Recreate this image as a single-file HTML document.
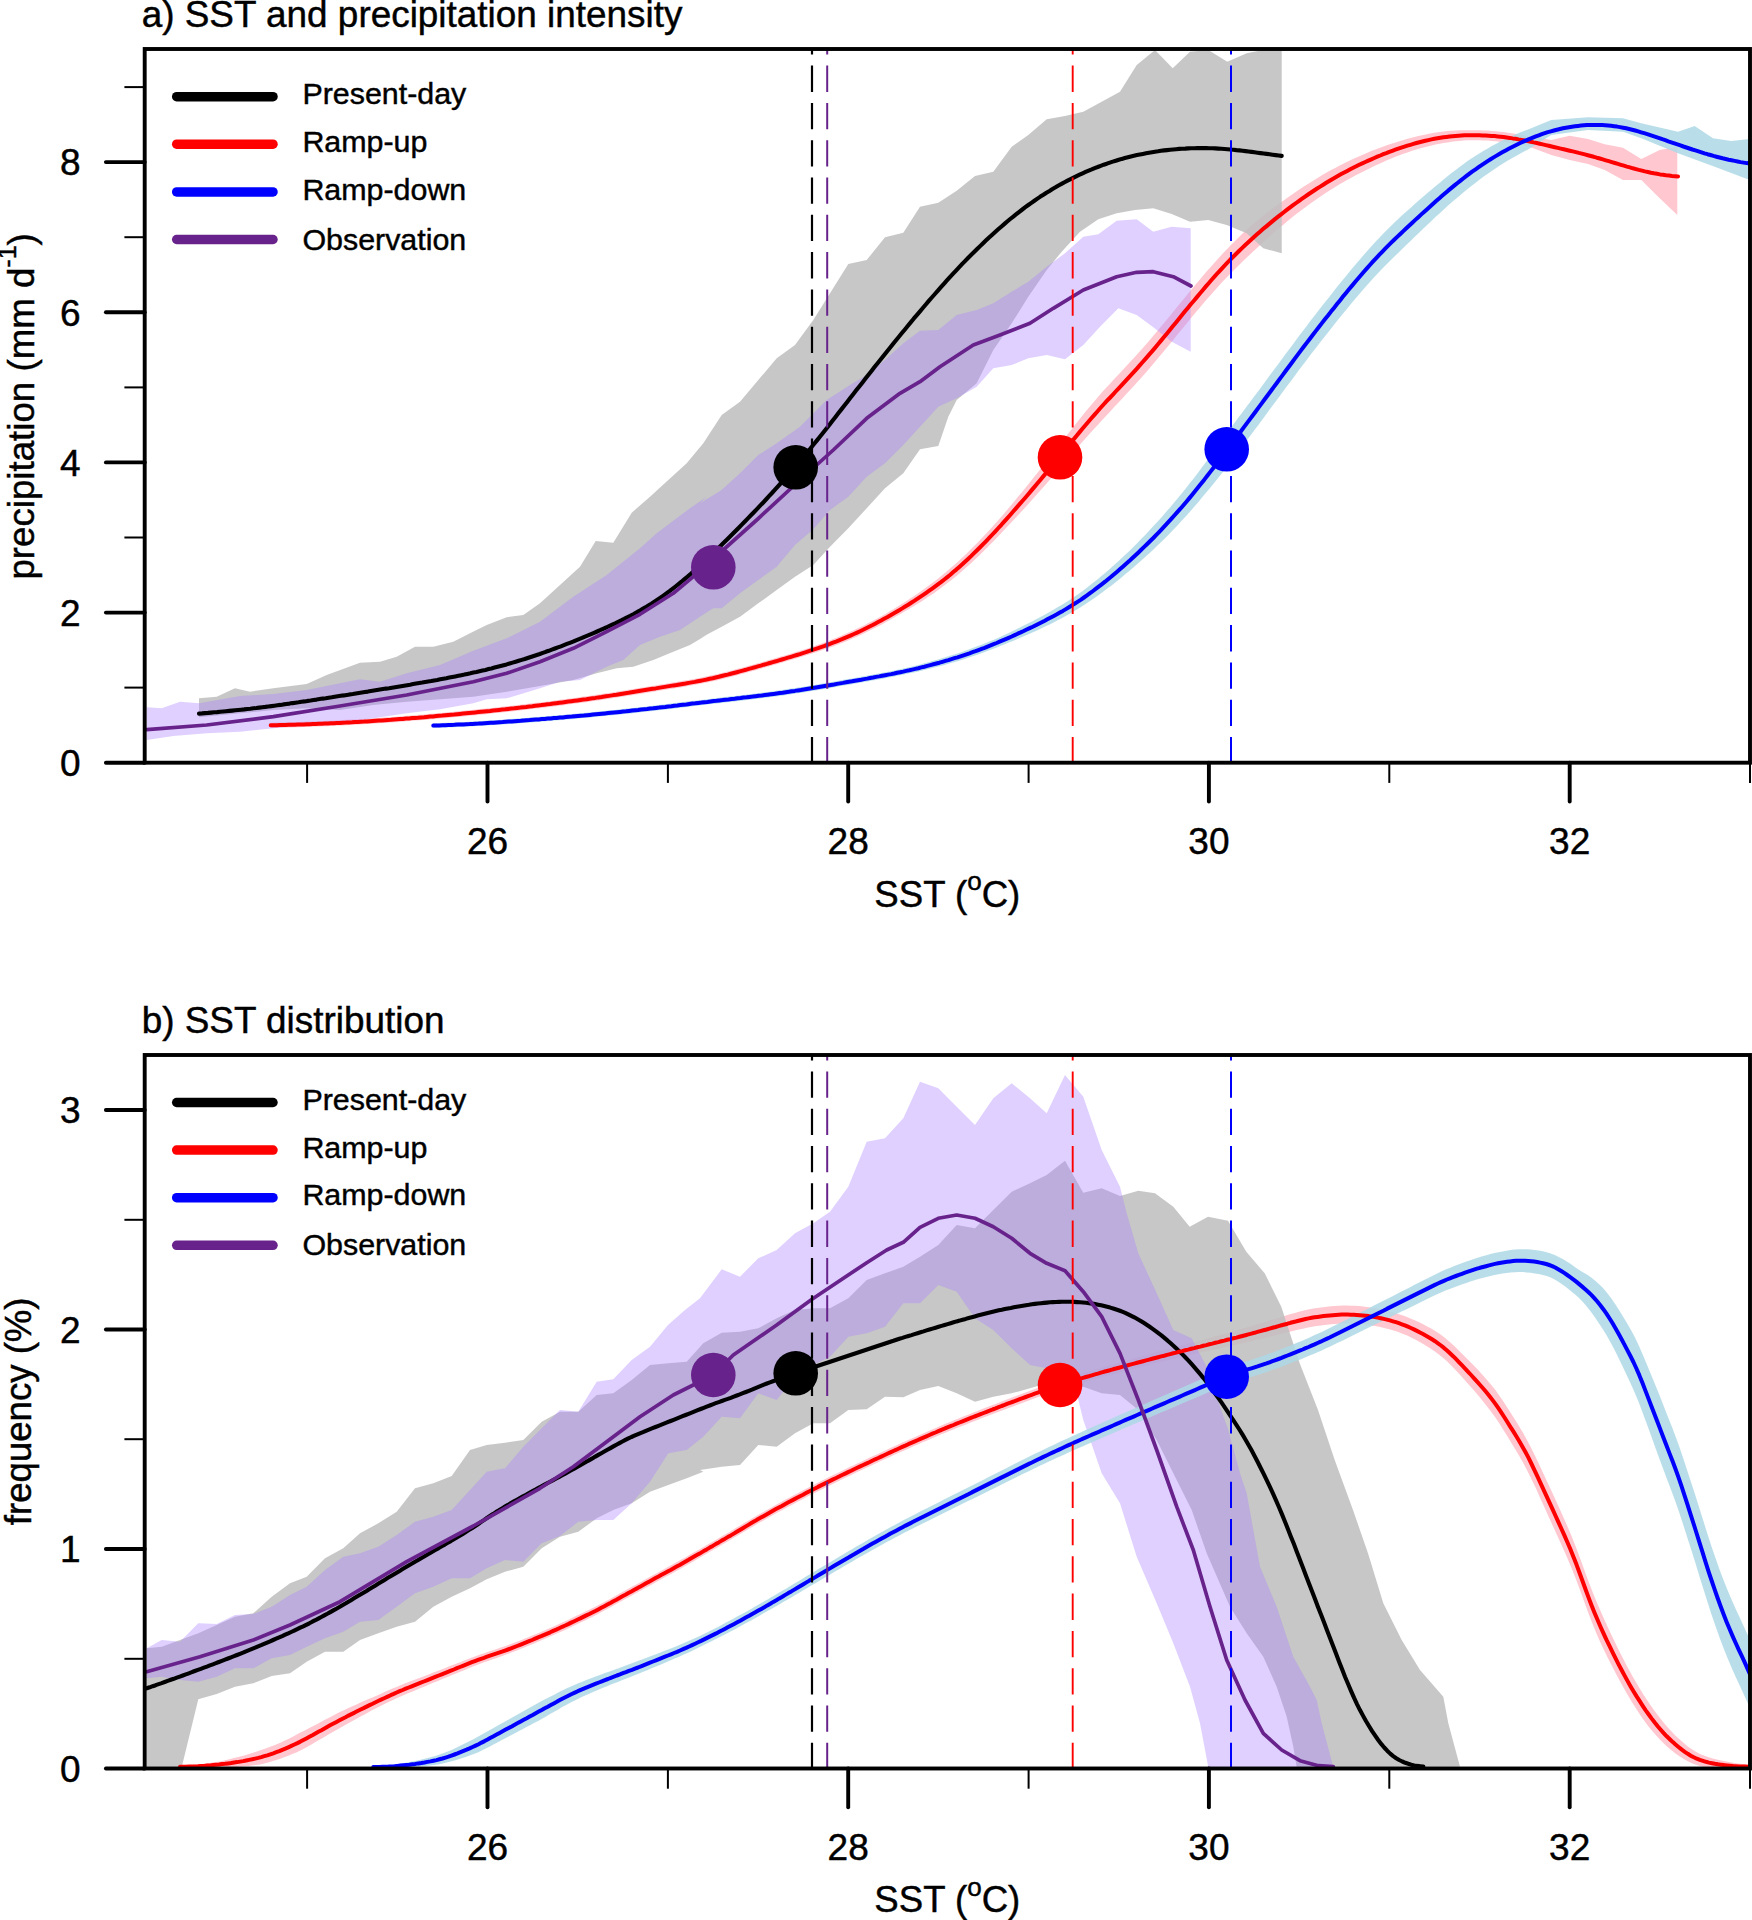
<!DOCTYPE html>
<html lang="en">
<head>
<meta charset="utf-8">
<title>SST and precipitation intensity / SST distribution</title>
<style>
html,body{margin:0;padding:0;background:#fff;}
body{width:1752px;height:1920px;overflow:hidden;}
svg{display:block;}
svg text{font-family:"Liberation Sans",sans-serif;fill:#000;stroke:#000;stroke-width:0.45px;}
</style>
</head>
<body>
<svg width="1752" height="1920" viewBox="0 0 1752 1920">
<rect width="1752" height="1920" fill="#fff"/>
<clipPath id="clipA"><rect x="144.7" y="49" width="1605.3" height="713.7"/></clipPath>
<g clip-path="url(#clipA)">
<path d="M270.7 722.7 L274.7 722.6 L278.7 722.5 L282.7 722.4 L286.7 722.3 L290.8 722.2 L294.8 722 L298.8 721.9 L302.8 721.8 L306.8 721.6 L310.8 721.5 L314.9 721.3 L318.9 721.2 L322.9 721 L326.9 720.8 L330.9 720.7 L334.9 720.5 L339 720.3 L343 720.1 L347 719.8 L351 719.6 L355 719.4 L359 719.2 L363.1 718.9 L367.1 718.7 L371.1 718.4 L375.1 718.1 L379.1 717.9 L383.1 717.6 L387.2 717.3 L391.2 717 L395.2 716.7 L399.2 716.4 L403.2 716.1 L407.2 715.8 L411.3 715.4 L415.3 715.1 L419.3 714.8 L423.3 714.4 L427.3 714.1 L431.3 713.7 L435.4 713.4 L439.4 713 L443.4 712.7 L447.4 712.3 L451.4 711.9 L455.5 711.5 L459.5 711.1 L463.5 710.7 L467.5 710.3 L471.5 709.9 L475.5 709.5 L479.6 709.1 L483.6 708.7 L487.6 708.3 L491.6 707.9 L495.6 707.4 L499.6 707 L503.7 706.6 L507.7 706.1 L511.7 705.7 L515.7 705.2 L519.7 704.7 L523.7 704.3 L527.8 703.8 L531.8 703.3 L535.8 702.8 L539.8 702.4 L543.8 701.9 L547.8 701.4 L551.9 700.9 L555.9 700.3 L559.9 699.8 L563.9 699.3 L567.9 698.8 L571.9 698.2 L576 697.7 L580 697.1 L584 696.5 L588 696 L592 695.4 L596 694.8 L600.1 694.2 L604.1 693.6 L608.1 693 L612.1 692.4 L616.1 691.7 L620.1 691.1 L624.2 690.5 L628.2 689.8 L632.2 689.2 L636.2 688.5 L640.2 687.8 L644.3 687.2 L648.3 686.5 L652.3 685.9 L656.3 685.2 L660.3 684.5 L664.3 683.9 L668.4 683.2 L672.4 682.6 L676.4 681.9 L680.4 681.3 L684.4 680.6 L688.4 679.9 L692.5 679.2 L696.5 678.4 L700.5 677.7 L704.5 676.8 L708.5 676 L712.5 675.1 L716.6 674.2 L720.6 673.2 L724.6 672.2 L728.6 671.2 L732.6 670.2 L736.6 669.1 L740.7 668 L744.7 666.9 L748.7 665.8 L752.7 664.7 L756.7 663.6 L760.7 662.4 L764.8 661.3 L768.8 660.1 L772.8 659 L776.8 657.8 L780.8 656.6 L784.8 655.4 L788.9 654.2 L792.9 653 L796.9 651.8 L800.9 650.5 L804.9 649.2 L808.9 647.9 L813 646.5 L817 645.1 L821 643.7 L825 642.2 L829 640.7 L833.1 639.1 L837.1 637.5 L841.1 635.8 L845.1 634.1 L849.1 632.3 L853.1 630.5 L857.2 628.6 L861.2 626.7 L865.2 624.7 L869.2 622.6 L873.2 620.5 L877.2 618.4 L881.3 616.2 L885.3 613.9 L889.3 611.6 L893.3 609.2 L897.3 606.8 L901.3 604.3 L905.4 601.7 L909.4 599.1 L913.4 596.4 L917.4 593.7 L921.4 590.9 L925.4 588 L929.5 585 L933.5 582 L937.5 578.9 L941.5 575.7 L945.5 572.4 L949.5 569 L953.6 565.5 L957.6 561.9 L961.6 558.2 L965.6 554.4 L969.6 550.5 L973.6 546.5 L977.7 542.4 L981.7 538.3 L985.7 534 L989.7 529.7 L993.7 525.3 L997.8 520.8 L1001.8 516.2 L1005.8 511.5 L1009.8 506.8 L1013.8 502 L1017.8 497.1 L1021.9 492.2 L1025.9 487.3 L1029.9 482.3 L1033.9 477.3 L1037.9 472.3 L1041.9 467.2 L1046 462.1 L1050 456.9 L1054 451.8 L1058 446.6 L1062 441.4 L1066 436.3 L1070.1 431.2 L1074.1 426.1 L1078.1 421 L1082.1 416 L1086.1 411 L1090.1 406.2 L1094.2 401.4 L1098.2 396.7 L1102.2 392.1 L1106.2 387.7 L1110.2 383.4 L1114.2 379.1 L1118.3 374.8 L1122.3 370.5 L1126.3 366.1 L1130.3 361.8 L1134.3 357.4 L1138.3 352.9 L1142.4 348.4 L1146.4 343.9 L1150.4 339.2 L1154.4 334.5 L1158.4 329.7 L1162.4 324.9 L1166.5 320.1 L1170.5 315.2 L1174.5 310.3 L1178.5 305.3 L1182.5 300.4 L1186.6 295.5 L1190.6 290.6 L1194.6 285.8 L1198.6 281 L1202.6 276.3 L1206.6 271.6 L1210.7 267 L1214.7 262.4 L1218.7 258 L1222.7 253.6 L1226.7 249.4 L1230.7 245.2 L1234.8 241.2 L1238.8 237.2 L1242.8 233.3 L1246.8 229.5 L1250.8 225.9 L1254.8 222.5 L1258.9 219.2 L1262.9 216 L1266.9 212.8 L1270.9 209.8 L1274.9 206.7 L1278.9 203.8 L1283 200.9 L1287 198 L1291 195.2 L1295 192.5 L1299 189.8 L1303 187.1 L1307.1 184.5 L1311.1 181.9 L1315.1 179.4 L1319.1 177 L1323.1 174.6 L1327.1 172.3 L1331.2 170.1 L1335.2 167.9 L1339.2 165.8 L1343.2 163.7 L1347.2 161.7 L1351.3 159.8 L1355.3 158 L1359.3 156.2 L1363.3 154.4 L1367.3 152.7 L1371.3 151.1 L1375.4 149.5 L1379.4 148 L1383.4 146.5 L1387.4 145.1 L1391.4 143.8 L1395.4 142.5 L1399.5 141.2 L1403.5 140 L1407.5 138.8 L1411.5 137.8 L1415.5 136.7 L1419.5 135.8 L1423.6 134.9 L1427.6 134.1 L1431.6 133.3 L1435.6 132.6 L1439.6 132.1 L1443.6 131.5 L1447.7 131.1 L1451.7 130.8 L1455.7 130.5 L1459.7 130.3 L1463.7 130.2 L1467.7 130.2 L1471.8 130.2 L1475.8 130.2 L1479.8 130.3 L1483.8 130.4 L1487.8 130.6 L1491.8 130.9 L1495.9 131.2 L1499.9 131.7 L1503.9 132.1 L1507.9 132.7 L1511.9 133.2 L1515.9 133.9 L1520 134.6 L1524 135.4 L1528 136.2 L1551.3 140 L1569.7 135.7 L1588 139 L1604.7 144.3 L1623 147.7 L1641.3 159 L1659.7 150 L1677.3 146.7 L1677.3 215 L1659.7 198.3 L1641.3 180 L1623 180 L1604.7 170 L1588 164 L1569.7 160 L1551.3 155 L1528 146.2 L1524 145.4 L1520 144.6 L1515.9 143.9 L1511.9 143.2 L1507.9 142.7 L1503.9 142.1 L1499.9 141.7 L1495.9 141.2 L1491.8 140.9 L1487.8 140.6 L1483.8 140.4 L1479.8 140.3 L1475.8 140.2 L1471.8 140.2 L1467.7 140.3 L1463.7 140.6 L1459.7 140.9 L1455.7 141.3 L1451.7 141.8 L1447.7 142.4 L1443.6 143 L1439.6 143.8 L1435.6 144.6 L1431.6 145.5 L1427.6 146.5 L1423.6 147.5 L1419.5 148.6 L1415.5 149.8 L1411.5 151.1 L1407.5 152.4 L1403.5 153.8 L1399.5 155.3 L1395.4 156.8 L1391.4 158.5 L1387.4 160.1 L1383.4 161.9 L1379.4 163.7 L1375.4 165.5 L1371.3 167.4 L1367.3 169.4 L1363.3 171.4 L1359.3 173.4 L1355.3 175.5 L1351.3 177.7 L1347.2 180 L1343.2 182.3 L1339.2 184.6 L1335.2 187.1 L1331.2 189.6 L1327.1 192.1 L1323.1 194.8 L1319.1 197.5 L1315.1 200.2 L1311.1 203.1 L1307.1 205.9 L1303 208.9 L1299 211.9 L1295 215.1 L1291 218.3 L1287 221.6 L1283 224.9 L1278.9 228.3 L1274.9 231.7 L1270.9 235.2 L1266.9 238.8 L1262.9 242.5 L1258.9 246.2 L1254.8 249.9 L1250.8 253.8 L1246.8 257.5 L1242.8 261.3 L1238.8 265.2 L1234.8 269.2 L1230.7 273.2 L1226.7 277.4 L1222.7 281.6 L1218.7 286 L1214.7 290.4 L1210.7 295 L1206.6 299.6 L1202.6 304.3 L1198.6 309 L1194.6 313.8 L1190.6 318.6 L1186.6 323.5 L1182.5 328.4 L1178.5 333.3 L1174.5 338.3 L1170.5 343.2 L1166.5 348.1 L1162.4 352.9 L1158.4 357.7 L1154.4 362.5 L1150.4 367.2 L1146.4 371.9 L1142.4 376.4 L1138.3 380.9 L1134.3 385.4 L1130.3 389.8 L1126.3 394.1 L1122.3 398.5 L1118.3 402.8 L1114.2 407.1 L1110.2 411.4 L1106.2 415.7 L1102.2 420.1 L1098.2 424.5 L1094.2 428.8 L1090.1 433.2 L1086.1 437.7 L1082.1 442.2 L1078.1 446.8 L1074.1 451.5 L1070.1 456.2 L1066 460.9 L1062 465.6 L1058 470.3 L1054 475 L1050 479.6 L1046 484.2 L1041.9 488.8 L1037.9 493.3 L1033.9 497.8 L1029.9 502.3 L1025.9 506.7 L1021.9 511.1 L1017.8 515.5 L1013.8 519.8 L1009.8 524.1 L1005.8 528.3 L1001.8 532.5 L997.8 536.7 L993.7 540.9 L989.7 545 L985.7 549 L981.7 553 L977.7 556.9 L973.6 560.7 L969.6 564.4 L965.6 568 L961.6 571.5 L957.6 575 L953.6 578.3 L949.5 581.5 L945.5 584.6 L941.5 587.6 L937.5 590.5 L933.5 593.4 L929.5 596.1 L925.4 598.8 L921.4 601.4 L917.4 603.9 L913.4 606.3 L909.4 608.8 L905.4 611.1 L901.3 613.4 L897.3 615.7 L893.3 618 L889.3 620.3 L885.3 622.5 L881.3 624.7 L877.2 626.8 L873.2 628.8 L869.2 630.8 L865.2 632.8 L861.2 634.7 L857.2 636.5 L853.1 638.3 L849.1 640 L845.1 641.7 L841.1 643.3 L837.1 644.8 L833.1 646.4 L829 647.8 L825 649.2 L821 650.6 L817 651.9 L813 653.2 L808.9 654.5 L804.9 655.7 L800.9 657 L796.9 658.2 L792.9 659.4 L788.9 660.6 L784.8 661.8 L780.8 663 L776.8 664.2 L772.8 665.3 L768.8 666.5 L764.8 667.6 L760.7 668.7 L756.7 669.9 L752.7 671 L748.7 672.1 L744.7 673.2 L740.7 674.3 L736.6 675.4 L732.6 676.4 L728.6 677.5 L724.6 678.5 L720.6 679.4 L716.6 680.4 L712.5 681.3 L708.5 682.2 L704.5 683 L700.5 683.8 L696.5 684.6 L692.5 685.3 L688.4 686 L684.4 686.7 L680.4 687.4 L676.4 688.1 L672.4 688.7 L668.4 689.3 L664.3 690 L660.3 690.6 L656.3 691.3 L652.3 691.9 L648.3 692.6 L644.3 693.2 L640.2 693.9 L636.2 694.5 L632.2 695.2 L628.2 695.8 L624.2 696.5 L620.1 697.1 L616.1 697.7 L612.1 698.3 L608.1 699 L604.1 699.6 L600.1 700.2 L596 700.7 L592 701.3 L588 701.9 L584 702.5 L580 703 L576 703.6 L571.9 704.1 L567.9 704.6 L563.9 705.2 L559.9 705.7 L555.9 706.2 L551.9 706.7 L547.8 707.2 L543.8 707.7 L539.8 708.2 L535.8 708.6 L531.8 709.1 L527.8 709.6 L523.7 710.1 L519.7 710.5 L515.7 711 L511.7 711.4 L507.7 711.9 L503.7 712.3 L499.6 712.7 L495.6 713.1 L491.6 713.6 L487.6 714 L483.6 714.4 L479.6 714.8 L475.5 715.2 L471.5 715.6 L467.5 716 L463.5 716.4 L459.5 716.8 L455.5 717.1 L451.4 717.5 L447.4 717.9 L443.4 718.2 L439.4 718.6 L435.4 719 L431.3 719.3 L427.3 719.7 L423.3 720 L419.3 720.3 L415.3 720.6 L411.3 721 L407.2 721.3 L403.2 721.6 L399.2 721.9 L395.2 722.2 L391.2 722.5 L387.2 722.8 L383.1 723 L379.1 723.3 L375.1 723.6 L371.1 723.8 L367.1 724.1 L363.1 724.3 L359 724.6 L355 724.8 L351 725 L347 725.2 L343 725.4 L339 725.6 L334.9 725.8 L330.9 726 L326.9 726.2 L322.9 726.3 L318.9 726.5 L314.9 726.6 L310.8 726.8 L306.8 726.9 L302.8 727.1 L298.8 727.2 L294.8 727.3 L290.8 727.4 L286.7 727.5 L282.7 727.6 L278.7 727.7 L274.7 727.8 L270.7 727.9 Z" fill="#ffc8d0"/>
<path d="M199 698.3 L216.7 696.7 L235 688.3 L250 691.7 L273.3 688.3 L306.7 684 L326.7 675 L360 662.7 L380 661.7 L396.7 656.7 L415 646.7 L433.3 646.7 L453.3 641.7 L470 633.3 L486.7 625 L506.7 617.3 L523.3 615 L540 603.3 L560 585 L580 566.7 L595.7 541 L613.3 542.7 L631.7 512.7 L650 496.7 L668.3 480 L686.7 463.3 L703.3 443.3 L721.7 415 L740 401.7 L758.3 380 L776.7 358.3 L795 345 L813.3 320 L830 293.3 L848.3 264 L866.7 260 L885 237.3 L903.3 232.7 L920 206.7 L938.3 202.7 L956.7 190.7 L975 176 L993.3 171.7 L1011.7 146.7 L1028.3 135 L1046.7 119.3 L1065 116 L1083.3 111.7 L1101.7 101.7 L1120 91.7 L1136.7 65 L1155 50 L1172.7 68.3 L1190 51.7 L1208.3 50 L1227.3 61.7 L1246.7 53.3 L1266.7 49.3 L1281.7 49.3 L1281.7 253.3 L1263.3 248.3 L1246.7 233.3 L1226.7 225 L1208.3 220 L1190 221.7 L1171.7 214 L1153.3 208.3 L1135 210 L1116.7 213.3 L1098.3 219.3 L1080 231.7 L1061.7 251.7 L1046.7 270 L1028.3 296.7 L1011.7 323.3 L993.3 350 L976.7 383.3 L956.7 400 L948.3 416.7 L938.3 446 L920 449.3 L903.3 473.3 L885 488.3 L866.7 508.3 L848.3 528.3 L830 546.7 L813.3 565 L795 576.7 L776.7 590 L758.3 603.3 L740 616.7 L721.7 626.7 L700 638.3 L706.7 635 L690 645 L673.3 651.7 L653.3 660 L633.3 666.7 L616.7 668.3 L596.7 673.3 L573.3 680 L540 686 L506.7 691.7 L473.3 696.7 L440 699.3 L406.7 701.7 L373.3 705 L340 710 L306.7 708.3 L273.3 710 L240 713.3 L199 717.3 Z" fill="rgb(190,190,190)" fill-opacity="0.86"/>
<path d="M146.7 707.3 L161.7 708.3 L180 701.7 L199 703.3 L240 696 L273.3 694 L306.7 690 L340 683.3 L360 679.3 L380 681.7 L406.7 673.3 L440 665 L473.3 650.7 L506.7 638.3 L540 621.7 L573.3 596.7 L606.7 575 L640 548.3 L656.7 533.3 L673.3 520.7 L690 508.3 L706.7 496.7 L700 503.3 L721.7 490 L740 473.3 L758.3 455 L776.7 443.3 L800 426.7 L826.7 400 L850 385 L866.7 375 L885 360 L903.3 343.3 L920 330.7 L938.3 330 L956.7 315 L976.7 310 L993.3 303.3 L1011.7 291.7 L1028.3 281.7 L1046.7 266.7 L1065 253.3 L1083.3 236.7 L1098.3 234.3 L1116.7 220.7 L1136.7 219.3 L1153.3 231.7 L1171.7 226.7 L1190.7 228.3 L1190.7 351.7 L1171.7 341.7 L1153.3 327.3 L1136.7 315 L1118.3 308.3 L1100 326.7 L1083.3 345 L1065 359.3 L1046.7 355 L1028.3 358.3 L1011.7 365 L993.3 368.3 L976.7 386.7 L956.7 398.3 L938.3 406.7 L920 426.7 L903.3 445 L885 463.3 L866.7 476.7 L848.3 496.7 L830 510 L813.3 529.3 L795 545 L776.7 566.7 L758.3 580 L740 593.3 L721.7 608.3 L713.3 608.3 L700 616.7 L680 630 L660 636.7 L640 645 L623.3 660 L606.7 666.7 L580 680 L560 681.7 L540 688.3 L506.7 698.3 L486.7 699.3 L473.3 703.3 L440 709.3 L406.7 713.3 L373.3 718.3 L340 722.7 L306.7 725 L273.3 728.3 L240 731.7 L206.7 733.3 L173.3 736 L146.7 740 Z" fill="rgb(171,130,255)" fill-opacity="0.375"/>
<path d="M433.3 723.3 L437.4 723.2 L441.4 723 L445.4 722.8 L449.4 722.7 L453.5 722.5 L457.5 722.3 L461.5 722.1 L465.5 721.9 L469.6 721.7 L473.6 721.5 L477.6 721.3 L481.6 721 L485.7 720.8 L489.7 720.5 L493.7 720.3 L497.7 720 L501.8 719.7 L505.8 719.4 L509.8 719.1 L513.8 718.8 L517.8 718.5 L521.9 718.2 L525.9 717.9 L529.9 717.6 L533.9 717.3 L538 717 L542 716.6 L546 716.3 L550 716 L554.1 715.6 L558.1 715.3 L562.1 714.9 L566.1 714.6 L570.2 714.2 L574.2 713.8 L578.2 713.5 L582.2 713.1 L586.3 712.7 L590.3 712.3 L594.3 711.9 L598.3 711.5 L602.4 711.1 L606.4 710.7 L610.4 710.3 L614.4 709.9 L618.5 709.5 L622.5 709.1 L626.5 708.6 L630.5 708.2 L634.6 707.7 L638.6 707.3 L642.6 706.9 L646.6 706.4 L650.7 705.9 L654.7 705.5 L658.7 705 L662.7 704.5 L666.8 704.1 L670.8 703.6 L674.8 703.1 L678.8 702.6 L682.9 702.1 L686.9 701.6 L690.9 701.1 L694.9 700.7 L699 700.2 L703 699.7 L707 699.2 L711 698.7 L715 698.2 L719.1 697.8 L723.1 697.3 L727.1 696.8 L731.1 696.3 L735.2 695.9 L739.2 695.4 L743.2 694.9 L747.2 694.4 L751.3 694 L755.3 693.5 L759.3 693 L763.3 692.4 L767.4 691.9 L771.4 691.4 L775.4 690.9 L779.4 690.3 L783.5 689.7 L787.5 689.1 L791.5 688.5 L795.5 687.9 L799.6 687.3 L803.6 686.7 L807.6 686 L811.6 685.4 L815.7 684.7 L819.7 684 L823.7 683.3 L827.7 682.6 L831.8 681.9 L835.8 681.2 L839.8 680.5 L843.8 679.8 L847.9 679.1 L851.9 678.4 L855.9 677.7 L859.9 676.9 L864 676.2 L868 675.5 L872 674.7 L876 674 L880.1 673.2 L884.1 672.5 L888.1 671.7 L892.1 670.9 L896.2 670.1 L900.2 669.2 L904.2 668.3 L908.2 667.4 L912.2 666.4 L916.3 665.4 L920.3 664.4 L924.3 663.3 L928.3 662.2 L932.4 661.1 L936.4 660 L940.4 658.8 L944.4 657.6 L948.5 656.3 L952.5 655 L956.5 653.7 L960.5 652.4 L964.6 651 L968.6 649.6 L972.6 648.1 L976.6 646.6 L980.7 645.1 L984.7 643.5 L988.7 641.8 L992.7 640.2 L996.8 638.5 L1000.8 636.7 L1004.8 634.8 L1008.8 632.9 L1012.9 631 L1016.9 629 L1020.9 627 L1024.9 625 L1029 623 L1033 620.9 L1037 618.8 L1041 616.7 L1045.1 614.5 L1049.1 612.3 L1053.1 610 L1057.1 607.6 L1061.2 605.2 L1065.2 602.8 L1069.2 600.2 L1073.2 597.5 L1077.3 594.7 L1081.3 591.9 L1085.3 588.9 L1089.3 585.8 L1093.4 582.6 L1097.4 579.4 L1101.4 576.1 L1105.4 572.7 L1109.5 569.2 L1113.5 565.6 L1117.5 562 L1121.5 558.3 L1125.5 554.5 L1129.6 550.7 L1133.6 546.7 L1137.6 542.7 L1141.6 538.6 L1145.7 534.4 L1149.7 530.1 L1153.7 525.8 L1157.7 521.4 L1161.8 516.9 L1165.8 512.3 L1169.8 507.7 L1173.8 503 L1177.9 498.1 L1181.9 493.2 L1185.9 488.2 L1189.9 483.1 L1194 478 L1198 472.7 L1202 467.3 L1206 461.9 L1210.1 456.4 L1214.1 450.8 L1218.1 445.2 L1222.1 439.6 L1226.2 433.9 L1230.2 428.6 L1234.2 423.2 L1238.2 417.8 L1242.3 412.4 L1246.3 407.1 L1250.3 401.7 L1254.3 396.3 L1258.4 390.9 L1262.4 385.4 L1266.4 380 L1270.4 374.6 L1274.5 369.1 L1278.5 363.7 L1282.5 358.2 L1286.5 352.8 L1290.6 347.4 L1294.6 342 L1298.6 336.6 L1302.6 331.2 L1306.7 325.9 L1310.7 320.6 L1314.7 315.4 L1318.7 310.2 L1322.8 305.1 L1326.8 300 L1330.8 294.9 L1334.8 289.8 L1338.8 284.8 L1342.9 279.8 L1346.9 274.9 L1350.9 270 L1354.9 265.2 L1359 260.4 L1363 255.8 L1367 251.2 L1371 246.7 L1375.1 242.3 L1379.1 238 L1383.1 233.8 L1387.1 229.8 L1391.2 225.8 L1395.2 221.8 L1399.2 218 L1403.2 214.3 L1407.3 210.7 L1411.3 207.2 L1415.3 203.6 L1419.3 200.1 L1423.4 196.6 L1427.4 193.1 L1431.4 189.7 L1435.4 186.3 L1439.5 182.9 L1443.5 179.6 L1447.5 176.3 L1451.5 173.1 L1455.6 170 L1459.6 166.9 L1463.6 163.9 L1467.6 161 L1471.7 158.3 L1475.7 155.7 L1479.7 153.2 L1483.7 150.7 L1487.8 148.4 L1491.8 146.1 L1495.8 143.9 L1499.8 141.8 L1503.9 139.8 L1507.9 137.9 L1511.9 136.1 L1515.9 134.3 L1520 132.6 L1524 131.1 L1528 129.6 L1551.3 120 L1588 117.3 L1623 118.3 L1641.3 123.3 L1678 131.7 L1694.7 126 L1713 138.3 L1731.3 141 L1749.7 139 L1754.7 139 L1754.7 181.3 L1749.7 180 L1714.7 166.7 L1678 153.3 L1641.3 138.3 L1623 131.7 L1588 130 L1551.3 135 L1528 149.6 L1524 151.6 L1520 153.7 L1515.9 155.9 L1511.9 158.2 L1507.9 160.6 L1503.9 163.1 L1499.8 165.6 L1495.8 168.2 L1491.8 170.9 L1487.8 173.7 L1483.7 176.6 L1479.7 179.6 L1475.7 182.7 L1471.7 185.8 L1467.6 189.1 L1463.6 192.3 L1459.6 195.7 L1455.6 199.1 L1451.5 202.6 L1447.5 206.1 L1443.5 209.7 L1439.5 213.4 L1435.4 217.1 L1431.4 220.9 L1427.4 224.7 L1423.4 228.5 L1419.3 232.4 L1415.3 236.3 L1411.3 240.2 L1407.3 244.1 L1403.2 248 L1399.2 252 L1395.2 255.8 L1391.2 259.8 L1387.1 263.8 L1383.1 267.8 L1379.1 272 L1375.1 276.3 L1371 280.7 L1367 285.2 L1363 289.8 L1359 294.4 L1354.9 299.2 L1350.9 304 L1346.9 308.9 L1342.9 313.8 L1338.8 318.8 L1334.8 323.8 L1330.8 328.9 L1326.8 334 L1322.8 339.1 L1318.7 344.2 L1314.7 349.4 L1310.7 354.6 L1306.7 359.9 L1302.6 365.2 L1298.6 370.6 L1294.6 376 L1290.6 381.4 L1286.5 386.8 L1282.5 392.2 L1278.5 397.7 L1274.5 403.1 L1270.4 408.6 L1266.4 414 L1262.4 419.4 L1258.4 424.9 L1254.3 430.3 L1250.3 435.7 L1246.3 441.1 L1242.3 446.4 L1238.2 451.8 L1234.2 457.2 L1230.2 462.6 L1226.2 467.9 L1222.1 473 L1218.1 478 L1214.1 483 L1210.1 487.9 L1206 492.8 L1202 497.6 L1198 502.4 L1194 507.1 L1189.9 511.7 L1185.9 516.2 L1181.9 520.6 L1177.9 525 L1173.8 529.2 L1169.8 533.4 L1165.8 537.4 L1161.8 541.4 L1157.7 545.3 L1153.7 549.2 L1149.7 552.9 L1145.7 556.6 L1141.6 560.2 L1137.6 563.8 L1133.6 567.2 L1129.6 570.7 L1125.5 574.1 L1121.5 577.4 L1117.5 580.7 L1113.5 583.9 L1109.5 587 L1105.4 590.1 L1101.4 593.1 L1097.4 596 L1093.4 598.8 L1089.3 601.6 L1085.3 604.2 L1081.3 606.8 L1077.3 609.3 L1073.2 611.7 L1069.2 614 L1065.2 616.3 L1061.2 618.5 L1057.1 620.6 L1053.1 622.7 L1049.1 624.7 L1045.1 626.6 L1041 628.5 L1037 630.4 L1033 632.2 L1029 634 L1024.9 635.8 L1020.9 637.5 L1016.9 639.2 L1012.9 640.9 L1008.8 642.5 L1004.8 644.2 L1000.8 645.7 L996.8 647.4 L992.7 648.9 L988.7 650.5 L984.7 652 L980.7 653.5 L976.6 654.9 L972.6 656.3 L968.6 657.6 L964.6 658.9 L960.5 660.2 L956.5 661.4 L952.5 662.6 L948.5 663.8 L944.4 664.9 L940.4 666 L936.4 667 L932.4 668.1 L928.3 669.1 L924.3 670 L920.3 671 L916.3 671.9 L912.2 672.8 L908.2 673.6 L904.2 674.4 L900.2 675.2 L896.2 676.1 L892.1 676.9 L888.1 677.6 L884.1 678.4 L880.1 679.2 L876 679.9 L872 680.6 L868 681.4 L864 682.1 L859.9 682.8 L855.9 683.5 L851.9 684.2 L847.9 684.9 L843.8 685.6 L839.8 686.3 L835.8 687 L831.8 687.7 L827.7 688.4 L823.7 689.1 L819.7 689.8 L815.7 690.4 L811.6 691.1 L807.6 691.8 L803.6 692.4 L799.6 693 L795.5 693.6 L791.5 694.2 L787.5 694.8 L783.5 695.4 L779.4 695.9 L775.4 696.5 L771.4 697 L767.4 697.5 L763.3 698 L759.3 698.5 L755.3 699 L751.3 699.5 L747.2 700 L743.2 700.4 L739.2 700.9 L735.2 701.4 L731.1 701.8 L727.1 702.3 L723.1 702.8 L719.1 703.2 L715 703.7 L711 704.1 L707 704.6 L703 705.1 L699 705.6 L694.9 706 L690.9 706.5 L686.9 707 L682.9 707.5 L678.8 707.9 L674.8 708.4 L670.8 708.9 L666.8 709.4 L662.7 709.8 L658.7 710.3 L654.7 710.7 L650.7 711.2 L646.6 711.6 L642.6 712.1 L638.6 712.5 L634.6 712.9 L630.5 713.4 L626.5 713.8 L622.5 714.2 L618.5 714.6 L614.4 715 L610.4 715.4 L606.4 715.8 L602.4 716.2 L598.3 716.6 L594.3 717 L590.3 717.4 L586.3 717.8 L582.2 718.1 L578.2 718.5 L574.2 718.9 L570.2 719.2 L566.1 719.6 L562.1 719.9 L558.1 720.3 L554.1 720.6 L550 720.9 L546 721.2 L542 721.6 L538 721.9 L533.9 722.2 L529.9 722.5 L525.9 722.8 L521.9 723.1 L517.8 723.4 L513.8 723.7 L509.8 724 L505.8 724.2 L501.8 724.5 L497.7 724.8 L493.7 725 L489.7 725.3 L485.7 725.5 L481.6 725.8 L477.6 726 L473.6 726.2 L469.6 726.4 L465.5 726.6 L461.5 726.8 L457.5 727 L453.5 727.2 L449.4 727.3 L445.4 727.5 L441.4 727.6 L437.4 727.8 L433.3 727.9 Z" fill="rgb(173,216,230)" fill-opacity="0.85"/>
<path d="M199 713.6 L202 713.4 L205 713.1 L208 712.9 L211.1 712.6 L214.1 712.3 L217.1 712.1 L220.1 711.8 L223.1 711.5 L226.1 711.2 L229.2 710.9 L232.2 710.6 L235.2 710.3 L238.2 710 L241.2 709.7 L244.2 709.4 L247.3 709 L250.3 708.7 L253.3 708.3 L256.3 708 L259.3 707.6 L262.3 707.2 L265.3 706.9 L268.4 706.5 L271.4 706.1 L274.4 705.7 L277.4 705.3 L280.4 704.9 L283.4 704.4 L286.5 704 L289.5 703.6 L292.5 703.1 L295.5 702.7 L298.5 702.3 L301.5 701.8 L304.6 701.4 L307.6 700.9 L310.6 700.5 L313.6 700 L316.6 699.6 L319.6 699.1 L322.6 698.6 L325.7 698.2 L328.7 697.7 L331.7 697.3 L334.7 696.8 L337.7 696.3 L340.7 695.8 L343.8 695.4 L346.8 694.9 L349.8 694.4 L352.8 694 L355.8 693.5 L358.8 693 L361.9 692.5 L364.9 692 L367.9 691.6 L370.9 691.1 L373.9 690.6 L376.9 690.1 L379.9 689.6 L383 689.1 L386 688.6 L389 688.2 L392 687.7 L395 687.2 L398 686.7 L401.1 686.2 L404.1 685.7 L407.1 685.2 L410.1 684.7 L413.1 684.1 L416.1 683.6 L419.2 683.1 L422.2 682.6 L425.2 682 L428.2 681.5 L431.2 681 L434.2 680.4 L437.2 679.9 L440.3 679.3 L443.3 678.7 L446.3 678.2 L449.3 677.6 L452.3 677 L455.3 676.4 L458.4 675.8 L461.4 675.2 L464.4 674.6 L467.4 673.9 L470.4 673.3 L473.4 672.6 L476.5 672 L479.5 671.3 L482.5 670.6 L485.5 669.9 L488.5 669.1 L491.5 668.4 L494.5 667.6 L497.6 666.8 L500.6 666 L503.6 665.2 L506.6 664.4 L509.6 663.5 L512.6 662.6 L515.7 661.7 L518.7 660.8 L521.7 659.9 L524.7 659 L527.7 658 L530.7 657 L533.8 656 L536.8 655 L539.8 654 L542.8 652.9 L545.8 651.8 L548.8 650.8 L551.8 649.7 L554.9 648.5 L557.9 647.4 L560.9 646.3 L563.9 645.1 L566.9 643.9 L569.9 642.8 L573 641.6 L576 640.3 L579 639.1 L582 637.9 L585 636.6 L588 635.4 L591.1 634.1 L594.1 632.8 L597.1 631.5 L600.1 630.2 L603.1 628.8 L606.1 627.5 L609.1 626.1 L612.2 624.7 L615.2 623.3 L618.2 621.8 L621.2 620.4 L624.2 618.9 L627.2 617.3 L630.3 615.8 L633.3 614.2 L636.3 612.5 L639.3 610.9 L642.3 609.1 L645.3 607.4 L648.4 605.5 L651.4 603.7 L654.4 601.7 L657.4 599.7 L660.4 597.7 L663.4 595.6 L666.4 593.4 L669.5 591.2 L672.5 588.9 L675.5 586.5 L678.5 584.1 L681.5 581.7 L684.5 579.1 L687.6 576.6 L690.6 574 L693.6 571.3 L696.6 568.6 L699.6 565.8 L702.6 563.1 L705.7 560.2 L708.7 557.4 L711.7 554.5 L714.7 551.6 L717.7 548.7 L720.7 545.7 L723.7 542.8 L726.8 539.8 L729.8 536.8 L732.8 533.8 L735.8 530.7 L738.8 527.7 L741.8 524.6 L744.9 521.5 L747.9 518.4 L750.9 515.3 L753.9 512.2 L756.9 509.1 L759.9 505.9 L763 502.7 L766 499.5 L769 496.2 L772 493 L775 489.7 L778 486.3 L781 483 L784.1 479.6 L787.1 476.2 L790.1 472.7 L793.1 469.2 L796.1 465.7 L799.1 462.1 L802.2 458.5 L805.2 454.9 L808.2 451.2 L811.2 447.5 L814.2 443.8 L817.2 440.1 L820.3 436.3 L823.3 432.5 L826.3 428.7 L829.3 424.9 L832.3 421 L835.3 417.2 L838.3 413.3 L841.4 409.4 L844.4 405.6 L847.4 401.7 L850.4 397.8 L853.4 394 L856.4 390.1 L859.5 386.2 L862.5 382.4 L865.5 378.5 L868.5 374.7 L871.5 370.9 L874.5 367.1 L877.6 363.3 L880.6 359.5 L883.6 355.7 L886.6 351.9 L889.6 348.2 L892.6 344.4 L895.6 340.7 L898.7 337 L901.7 333.3 L904.7 329.7 L907.7 326 L910.7 322.4 L913.7 318.7 L916.8 315.1 L919.8 311.6 L922.8 308 L925.8 304.5 L928.8 300.9 L931.8 297.5 L934.9 294 L937.9 290.6 L940.9 287.2 L943.9 283.8 L946.9 280.4 L949.9 277.1 L952.9 273.9 L956 270.6 L959 267.4 L962 264.2 L965 261.1 L968 258 L971 255 L974.1 252 L977.1 249 L980.1 246.1 L983.1 243.2 L986.1 240.3 L989.1 237.5 L992.2 234.7 L995.2 232 L998.2 229.3 L1001.2 226.7 L1004.2 224.1 L1007.2 221.5 L1010.2 219 L1013.3 216.6 L1016.3 214.2 L1019.3 211.8 L1022.3 209.5 L1025.3 207.2 L1028.3 205 L1031.4 202.8 L1034.4 200.7 L1037.4 198.6 L1040.4 196.6 L1043.4 194.7 L1046.4 192.7 L1049.5 190.9 L1052.5 189 L1055.5 187.3 L1058.5 185.5 L1061.5 183.9 L1064.5 182.2 L1067.5 180.6 L1070.6 179.1 L1073.6 177.6 L1076.6 176.1 L1079.6 174.7 L1082.6 173.3 L1085.6 171.9 L1088.7 170.6 L1091.7 169.4 L1094.7 168.1 L1097.7 167 L1100.7 165.8 L1103.7 164.7 L1106.8 163.7 L1109.8 162.6 L1112.8 161.6 L1115.8 160.7 L1118.8 159.8 L1121.8 158.9 L1124.8 158.1 L1127.9 157.3 L1130.9 156.5 L1133.9 155.8 L1136.9 155.1 L1139.9 154.5 L1142.9 153.9 L1146 153.3 L1149 152.7 L1152 152.2 L1155 151.7 L1158 151.3 L1161 150.8 L1164.1 150.4 L1167.1 150.1 L1170.1 149.8 L1173.1 149.5 L1176.1 149.2 L1179.1 148.9 L1182.1 148.7 L1185.2 148.6 L1188.2 148.4 L1191.2 148.3 L1194.2 148.2 L1197.2 148.1 L1200.2 148.1 L1203.3 148.1 L1206.3 148.1 L1209.3 148.2 L1212.3 148.3 L1215.3 148.4 L1218.3 148.6 L1221.4 148.8 L1224.4 149 L1227.4 149.2 L1230.4 149.5 L1233.4 149.7 L1236.4 150.1 L1239.4 150.4 L1242.5 150.7 L1245.5 151.1 L1248.5 151.5 L1251.5 151.9 L1254.5 152.3 L1257.5 152.7 L1260.6 153.1 L1263.6 153.5 L1266.6 153.9 L1269.6 154.3 L1272.6 154.7 L1275.6 155.1 L1278.7 155.5 L1281.7 155.9" fill="none" stroke="#000000" stroke-width="4.1" stroke-linecap="round" stroke-linejoin="round"/>
<path d="M270.7 725.3 L273.7 725.2 L276.7 725.2 L279.7 725.1 L282.7 725 L285.7 724.9 L288.7 724.8 L291.7 724.8 L294.7 724.7 L297.7 724.6 L300.7 724.5 L303.7 724.4 L306.8 724.3 L309.8 724.2 L312.8 724.1 L315.8 724 L318.8 723.8 L321.8 723.7 L324.8 723.6 L327.8 723.5 L330.8 723.3 L333.8 723.2 L336.8 723 L339.8 722.9 L342.8 722.7 L345.8 722.6 L348.9 722.4 L351.9 722.3 L354.9 722.1 L357.9 721.9 L360.9 721.7 L363.9 721.6 L366.9 721.4 L369.9 721.2 L372.9 721 L375.9 720.8 L378.9 720.6 L381.9 720.4 L384.9 720.2 L387.9 720 L391 719.8 L394 719.5 L397 719.3 L400 719.1 L403 718.9 L406 718.6 L409 718.4 L412 718.1 L415 717.9 L418 717.7 L421 717.4 L424 717.2 L427 716.9 L430 716.6 L433.1 716.4 L436.1 716.1 L439.1 715.8 L442.1 715.6 L445.1 715.3 L448.1 715 L451.1 714.7 L454.1 714.5 L457.1 714.2 L460.1 713.9 L463.1 713.6 L466.1 713.3 L469.1 713 L472.1 712.7 L475.2 712.4 L478.2 712.1 L481.2 711.8 L484.2 711.5 L487.2 711.2 L490.2 710.9 L493.2 710.5 L496.2 710.2 L499.2 709.9 L502.2 709.6 L505.2 709.3 L508.2 708.9 L511.2 708.6 L514.2 708.3 L517.3 707.9 L520.3 707.6 L523.3 707.2 L526.3 706.9 L529.3 706.5 L532.3 706.2 L535.3 705.8 L538.3 705.4 L541.3 705.1 L544.3 704.7 L547.3 704.3 L550.3 704 L553.3 703.6 L556.3 703.2 L559.4 702.8 L562.4 702.4 L565.4 702 L568.4 701.6 L571.4 701.2 L574.4 700.8 L577.4 700.4 L580.4 700 L583.4 699.6 L586.4 699.2 L589.4 698.7 L592.4 698.3 L595.4 697.9 L598.4 697.4 L601.5 697 L604.5 696.5 L607.5 696.1 L610.5 695.6 L613.5 695.1 L616.5 694.7 L619.5 694.2 L622.5 693.7 L625.5 693.2 L628.5 692.8 L631.5 692.3 L634.5 691.8 L637.5 691.3 L640.5 690.8 L643.5 690.3 L646.6 689.8 L649.6 689.3 L652.6 688.8 L655.6 688.4 L658.6 687.9 L661.6 687.4 L664.6 686.9 L667.6 686.4 L670.6 685.9 L673.6 685.4 L676.6 685 L679.6 684.5 L682.6 684 L685.6 683.5 L688.7 682.9 L691.7 682.4 L694.7 681.9 L697.7 681.3 L700.7 680.7 L703.7 680.1 L706.7 679.5 L709.7 678.8 L712.7 678.2 L715.7 677.5 L718.7 676.8 L721.7 676 L724.7 675.3 L727.7 674.6 L730.8 673.8 L733.8 673 L736.8 672.2 L739.8 671.4 L742.8 670.6 L745.8 669.8 L748.8 668.9 L751.8 668.1 L754.8 667.3 L757.8 666.4 L760.8 665.6 L763.8 664.7 L766.8 663.9 L769.8 663 L772.9 662.1 L775.9 661.3 L778.9 660.4 L781.9 659.5 L784.9 658.6 L787.9 657.7 L790.9 656.8 L793.9 655.9 L796.9 655 L799.9 654.1 L802.9 653.1 L805.9 652.2 L808.9 651.2 L811.9 650.2 L815 649.2 L818 648.2 L821 647.1 L824 646.1 L827 645 L830 643.9 L833 642.7 L836 641.6 L839 640.4 L842 639.2 L845 637.9 L848 636.6 L851 635.3 L854 634 L857.1 632.6 L860.1 631.2 L863.1 629.8 L866.1 628.3 L869.1 626.8 L872.1 625.3 L875.1 623.7 L878.1 622.1 L881.1 620.5 L884.1 618.8 L887.1 617.2 L890.1 615.5 L893.1 613.7 L896.1 612 L899.2 610.2 L902.2 608.4 L905.2 606.5 L908.2 604.7 L911.2 602.8 L914.2 600.9 L917.2 598.9 L920.2 596.9 L923.2 594.9 L926.2 592.8 L929.2 590.7 L932.2 588.6 L935.2 586.4 L938.2 584.1 L941.3 581.9 L944.3 579.5 L947.3 577.1 L950.3 574.7 L953.3 572.1 L956.3 569.6 L959.3 566.9 L962.3 564.3 L965.3 561.5 L968.3 558.7 L971.3 555.9 L974.3 552.9 L977.3 550 L980.3 547 L983.4 543.9 L986.4 540.8 L989.4 537.7 L992.4 534.5 L995.4 531.3 L998.4 528 L1001.4 524.8 L1004.4 521.4 L1007.4 518.1 L1010.4 514.7 L1013.4 511.3 L1016.4 507.9 L1019.4 504.4 L1022.4 501 L1025.5 497.5 L1028.5 494 L1031.5 490.4 L1034.5 486.9 L1037.5 483.3 L1040.5 479.7 L1043.5 476.1 L1046.5 472.5 L1049.5 468.8 L1052.5 465.2 L1055.5 461.5 L1058.5 457.8 L1061.5 454.1 L1064.5 450.4 L1067.6 446.7 L1070.6 443 L1073.6 439.4 L1076.6 435.7 L1079.6 432.1 L1082.6 428.5 L1085.6 425 L1088.6 421.5 L1091.6 418 L1094.6 414.6 L1097.6 411.2 L1100.6 407.8 L1103.6 404.5 L1106.6 401.2 L1109.7 398 L1112.7 394.8 L1115.7 391.5 L1118.7 388.3 L1121.7 385.1 L1124.7 381.9 L1127.7 378.6 L1130.7 375.4 L1133.7 372.1 L1136.7 368.8 L1139.7 365.4 L1142.7 362 L1145.7 358.6 L1148.7 355.1 L1151.8 351.6 L1154.8 348.1 L1157.8 344.5 L1160.8 340.9 L1163.8 337.3 L1166.8 333.7 L1169.8 330 L1172.8 326.3 L1175.8 322.7 L1178.8 319 L1181.8 315.3 L1184.8 311.6 L1187.8 308 L1190.8 304.3 L1193.9 300.7 L1196.9 297.1 L1199.9 293.5 L1202.9 290 L1205.9 286.4 L1208.9 283 L1211.9 279.5 L1214.9 276.2 L1217.9 272.8 L1220.9 269.6 L1223.9 266.3 L1226.9 263.2 L1229.9 260 L1232.9 257 L1236 254 L1239 251 L1242 248.1 L1245 245.3 L1248 242.5 L1251 239.7 L1254 237 L1257 234.3 L1260 231.7 L1263 229.1 L1266 226.6 L1269 224.1 L1272 221.6 L1275 219.1 L1278.1 216.7 L1281.1 214.4 L1284.1 212 L1287.1 209.7 L1290.1 207.4 L1293.1 205.2 L1296.1 203 L1299.1 200.8 L1302.1 198.7 L1305.1 196.6 L1308.1 194.5 L1311.1 192.5 L1314.1 190.5 L1317.1 188.5 L1320.2 186.6 L1323.2 184.7 L1326.2 182.8 L1329.2 181 L1332.2 179.2 L1335.2 177.5 L1338.2 175.8 L1341.2 174.1 L1344.2 172.5 L1347.2 170.9 L1350.2 169.3 L1353.2 167.8 L1356.2 166.3 L1359.2 164.8 L1362.3 163.4 L1365.3 162 L1368.3 160.6 L1371.3 159.3 L1374.3 158 L1377.3 156.7 L1380.3 155.5 L1383.3 154.2 L1386.3 153.1 L1389.3 151.9 L1392.3 150.8 L1395.3 149.7 L1398.3 148.6 L1401.3 147.6 L1404.4 146.6 L1407.4 145.7 L1410.4 144.8 L1413.4 143.9 L1416.4 143 L1419.4 142.2 L1422.4 141.5 L1425.4 140.8 L1428.4 140.1 L1431.4 139.4 L1434.4 138.8 L1437.4 138.3 L1440.4 137.8 L1443.4 137.3 L1446.5 136.9 L1449.5 136.5 L1452.5 136.2 L1455.5 135.9 L1458.5 135.7 L1461.5 135.5 L1464.5 135.3 L1467.5 135.2 L1470.5 135.2 L1473.5 135.2 L1476.5 135.2 L1479.5 135.3 L1482.5 135.4 L1485.5 135.5 L1488.6 135.7 L1491.6 135.9 L1494.6 136.1 L1497.6 136.4 L1500.6 136.7 L1503.6 137.1 L1506.6 137.5 L1509.6 137.9 L1512.6 138.4 L1515.6 138.8 L1518.6 139.4 L1521.6 139.9 L1524.6 140.5 L1527.6 141.1 L1530.7 141.7 L1533.7 142.4 L1536.7 143 L1539.7 143.7 L1542.7 144.4 L1545.7 145.1 L1548.7 145.8 L1551.7 146.5 L1554.7 147.2 L1557.7 147.9 L1560.7 148.6 L1563.7 149.3 L1566.7 150 L1569.7 150.7 L1572.8 151.4 L1575.8 152.1 L1578.8 152.9 L1581.8 153.6 L1584.8 154.4 L1587.8 155.2 L1590.8 156 L1593.8 156.8 L1596.8 157.7 L1599.8 158.5 L1602.8 159.4 L1605.8 160.3 L1608.8 161.2 L1611.8 162.1 L1614.9 163 L1617.9 163.9 L1620.9 164.8 L1623.9 165.7 L1626.9 166.6 L1629.9 167.4 L1632.9 168.3 L1635.9 169.1 L1638.9 169.9 L1641.9 170.6 L1644.9 171.4 L1647.9 172 L1650.9 172.7 L1653.9 173.3 L1657 173.8 L1660 174.4 L1663 174.8 L1666 175.3 L1669 175.6 L1672 176 L1675 176.3 L1678 176.6" fill="none" stroke="#ff0000" stroke-width="4.0" stroke-linecap="round" stroke-linejoin="round"/>
<path d="M433.3 725.6 L436.3 725.5 L439.4 725.4 L442.4 725.3 L445.4 725.2 L448.4 725 L451.4 724.9 L454.4 724.8 L457.4 724.6 L460.4 724.5 L463.5 724.4 L466.5 724.2 L469.5 724.1 L472.5 723.9 L475.5 723.7 L478.5 723.6 L481.5 723.4 L484.5 723.2 L487.6 723 L490.6 722.8 L493.6 722.7 L496.6 722.5 L499.6 722.3 L502.6 722.1 L505.6 721.8 L508.6 721.6 L511.7 721.4 L514.7 721.2 L517.7 721 L520.7 720.8 L523.7 720.5 L526.7 720.3 L529.7 720.1 L532.7 719.8 L535.7 719.6 L538.8 719.4 L541.8 719.1 L544.8 718.9 L547.8 718.6 L550.8 718.4 L553.8 718.1 L556.8 717.9 L559.8 717.6 L562.9 717.4 L565.9 717.1 L568.9 716.8 L571.9 716.6 L574.9 716.3 L577.9 716 L580.9 715.7 L583.9 715.5 L587 715.2 L590 714.9 L593 714.6 L596 714.3 L599 714 L602 713.7 L605 713.4 L608 713.1 L611.1 712.8 L614.1 712.5 L617.1 712.2 L620.1 711.9 L623.1 711.6 L626.1 711.3 L629.1 710.9 L632.1 710.6 L635.2 710.3 L638.2 710 L641.2 709.6 L644.2 709.3 L647.2 709 L650.2 708.6 L653.2 708.3 L656.2 707.9 L659.2 707.6 L662.3 707.2 L665.3 706.9 L668.3 706.5 L671.3 706.2 L674.3 705.8 L677.3 705.5 L680.3 705.1 L683.3 704.7 L686.4 704.4 L689.4 704 L692.4 703.6 L695.4 703.3 L698.4 702.9 L701.4 702.6 L704.4 702.2 L707.4 701.9 L710.5 701.5 L713.5 701.1 L716.5 700.8 L719.5 700.4 L722.5 700.1 L725.5 699.7 L728.5 699.4 L731.5 699 L734.6 698.7 L737.6 698.3 L740.6 698 L743.6 697.6 L746.6 697.3 L749.6 696.9 L752.6 696.6 L755.6 696.2 L758.7 695.8 L761.7 695.5 L764.7 695.1 L767.7 694.7 L770.7 694.3 L773.7 693.9 L776.7 693.5 L779.7 693.1 L782.7 692.7 L785.8 692.2 L788.8 691.8 L791.8 691.3 L794.8 690.9 L797.8 690.4 L800.8 690 L803.8 689.5 L806.8 689 L809.9 688.5 L812.9 688 L815.9 687.5 L818.9 687 L821.9 686.5 L824.9 686 L827.9 685.5 L830.9 685 L834 684.5 L837 683.9 L840 683.4 L843 682.9 L846 682.3 L849 681.8 L852 681.3 L855 680.7 L858.1 680.2 L861.1 679.7 L864.1 679.1 L867.1 678.6 L870.1 678 L873.1 677.5 L876.1 676.9 L879.1 676.4 L882.2 675.8 L885.2 675.2 L888.2 674.6 L891.2 674.1 L894.2 673.5 L897.2 672.8 L900.2 672.2 L903.2 671.6 L906.2 670.9 L909.3 670.3 L912.3 669.6 L915.3 668.9 L918.3 668.2 L921.3 667.4 L924.3 666.7 L927.3 665.9 L930.3 665.1 L933.4 664.3 L936.4 663.5 L939.4 662.7 L942.4 661.8 L945.4 660.9 L948.4 660.1 L951.4 659.1 L954.4 658.2 L957.5 657.3 L960.5 656.3 L963.5 655.3 L966.5 654.3 L969.5 653.3 L972.5 652.2 L975.5 651.2 L978.5 650.1 L981.6 648.9 L984.6 647.8 L987.6 646.6 L990.6 645.4 L993.6 644.2 L996.6 643 L999.6 641.7 L1002.6 640.4 L1005.7 639.1 L1008.7 637.8 L1011.7 636.5 L1014.7 635.1 L1017.7 633.7 L1020.7 632.4 L1023.7 631 L1026.7 629.5 L1029.7 628.1 L1032.8 626.7 L1035.8 625.2 L1038.8 623.7 L1041.8 622.2 L1044.8 620.7 L1047.8 619.1 L1050.8 617.5 L1053.8 615.9 L1056.9 614.3 L1059.9 612.6 L1062.9 610.9 L1065.9 609.1 L1068.9 607.3 L1071.9 605.4 L1074.9 603.5 L1077.9 601.6 L1081 599.6 L1084 597.5 L1087 595.4 L1090 593.2 L1093 591 L1096 588.7 L1099 586.4 L1102 584.1 L1105.1 581.7 L1108.1 579.2 L1111.1 576.8 L1114.1 574.2 L1117.1 571.7 L1120.1 569.1 L1123.1 566.4 L1126.1 563.8 L1129.2 561.1 L1132.2 558.3 L1135.2 555.5 L1138.2 552.7 L1141.2 549.8 L1144.2 546.9 L1147.2 544 L1150.2 541 L1153.3 538 L1156.3 534.9 L1159.3 531.8 L1162.3 528.6 L1165.3 525.4 L1168.3 522.2 L1171.3 518.9 L1174.3 515.5 L1177.3 512.1 L1180.4 508.7 L1183.4 505.2 L1186.4 501.7 L1189.4 498.1 L1192.4 494.4 L1195.4 490.7 L1198.4 487 L1201.4 483.2 L1204.5 479.4 L1207.5 475.5 L1210.5 471.6 L1213.5 467.7 L1216.5 463.7 L1219.5 459.8 L1222.5 455.8 L1225.5 451.8 L1228.6 447.8 L1231.6 443.7 L1234.6 439.7 L1237.6 435.7 L1240.6 431.7 L1243.6 427.6 L1246.6 423.6 L1249.6 419.6 L1252.7 415.5 L1255.7 411.5 L1258.7 407.4 L1261.7 403.4 L1264.7 399.3 L1267.7 395.2 L1270.7 391.2 L1273.7 387.1 L1276.8 383 L1279.8 378.9 L1282.8 374.9 L1285.8 370.8 L1288.8 366.7 L1291.8 362.7 L1294.8 358.6 L1297.8 354.6 L1300.8 350.6 L1303.9 346.6 L1306.9 342.6 L1309.9 338.7 L1312.9 334.8 L1315.9 330.9 L1318.9 327 L1321.9 323.1 L1324.9 319.3 L1328 315.5 L1331 311.6 L1334 307.9 L1337 304.1 L1340 300.4 L1343 296.6 L1346 292.9 L1349 289.3 L1352.1 285.6 L1355.1 282 L1358.1 278.5 L1361.1 275 L1364.1 271.5 L1367.1 268.1 L1370.1 264.7 L1373.1 261.4 L1376.2 258.1 L1379.2 254.9 L1382.2 251.8 L1385.2 248.7 L1388.2 245.7 L1391.2 242.7 L1394.2 239.8 L1397.2 236.9 L1400.3 234 L1403.3 231.1 L1406.3 228.3 L1409.3 225.5 L1412.3 222.7 L1415.3 219.9 L1418.3 217.2 L1421.3 214.4 L1424.3 211.7 L1427.4 208.9 L1430.4 206.2 L1433.4 203.5 L1436.4 200.8 L1439.4 198.2 L1442.4 195.6 L1445.4 193 L1448.4 190.4 L1451.5 187.9 L1454.5 185.4 L1457.5 183 L1460.5 180.6 L1463.5 178.2 L1466.5 175.9 L1469.5 173.6 L1472.5 171.4 L1475.6 169.3 L1478.6 167.2 L1481.6 165.1 L1484.6 163.1 L1487.6 161.1 L1490.6 159.2 L1493.6 157.4 L1496.6 155.6 L1499.7 153.8 L1502.7 152.1 L1505.7 150.4 L1508.7 148.8 L1511.7 147.2 L1514.7 145.7 L1517.7 144.2 L1520.7 142.8 L1523.8 141.4 L1526.8 140.1 L1529.8 138.8 L1532.8 137.6 L1535.8 136.4 L1538.8 135.3 L1541.8 134.2 L1544.8 133.2 L1547.8 132.2 L1550.9 131.3 L1553.9 130.5 L1556.9 129.7 L1559.9 129 L1562.9 128.3 L1565.9 127.7 L1568.9 127.2 L1571.9 126.7 L1575 126.3 L1578 125.9 L1581 125.6 L1584 125.3 L1587 125.1 L1590 125 L1593 124.9 L1596 124.9 L1599.1 125 L1602.1 125.1 L1605.1 125.2 L1608.1 125.5 L1611.1 125.8 L1614.1 126.2 L1617.1 126.6 L1620.1 127.1 L1623.2 127.7 L1626.2 128.3 L1629.2 129 L1632.2 129.7 L1635.2 130.5 L1638.2 131.4 L1641.2 132.3 L1644.2 133.2 L1647.3 134.1 L1650.3 135.1 L1653.3 136.1 L1656.3 137.1 L1659.3 138.1 L1662.3 139.2 L1665.3 140.2 L1668.3 141.3 L1671.3 142.3 L1674.4 143.4 L1677.4 144.4 L1680.4 145.4 L1683.4 146.5 L1686.4 147.5 L1689.4 148.5 L1692.4 149.5 L1695.4 150.4 L1698.5 151.4 L1701.5 152.3 L1704.5 153.3 L1707.5 154.2 L1710.5 155 L1713.5 155.9 L1716.5 156.7 L1719.5 157.5 L1722.6 158.3 L1725.6 159 L1728.6 159.7 L1731.6 160.3 L1734.6 160.9 L1737.6 161.5 L1740.6 162.1 L1743.6 162.6 L1746.7 163.1 L1749.7 163.5" fill="none" stroke="#0000ff" stroke-width="4.0" stroke-linecap="round" stroke-linejoin="round"/>
<path d="M146.7 729.7 L206.7 725 L273.3 716.7 L340 706 L406.7 695 L473.3 681.7 L506.7 673.3 L540 661.7 L573.3 648.3 L606.7 631.7 L640 614.3 L673.3 593.3 L693.3 576.7 L756.7 520 L800 480 L833.3 450 L866.7 418.3 L900 393.3 L920 381.7 L940 366.7 L973.3 345 L1000 335 L1030 323.3 L1053.3 308.3 L1083.3 290 L1116.7 276.7 L1136.7 272.3 L1153.3 271.7 L1173.3 276.7 L1191 286" fill="none" stroke="#68228b" stroke-width="3.7" stroke-linecap="round" stroke-linejoin="round"/>
<line x1="812" y1="763.3" x2="812" y2="49" stroke="#000000" stroke-width="2.2" stroke-dasharray="26.3 11"/>
<line x1="827.2" y1="763.3" x2="827.2" y2="49" stroke="#68228b" stroke-width="2.0" stroke-dasharray="26.3 11"/>
<line x1="1072.7" y1="763.3" x2="1072.7" y2="49" stroke="#ff0000" stroke-width="1.9" stroke-dasharray="26.3 11"/>
<line x1="1231" y1="763.3" x2="1231" y2="49" stroke="#0000ff" stroke-width="2.0" stroke-dasharray="26.3 11"/>
<circle cx="713.3" cy="567.3" r="22.3" fill="#68228b"/>
<circle cx="795.7" cy="467.3" r="22.3" fill="#000000"/>
<circle cx="1060" cy="457.3" r="22.3" fill="#ff0000"/>
<circle cx="1226.7" cy="449.3" r="22.3" fill="#0000ff"/>
</g>
<rect x="144.7" y="49" width="1605.3" height="713.7" fill="none" stroke="#000" stroke-width="3.9"/>
<line x1="307.1" y1="762.7" x2="307.1" y2="782.9" stroke="#000" stroke-width="2"/>
<line x1="487.5" y1="762.7" x2="487.5" y2="801.5" stroke="#000" stroke-width="3.9" stroke-linecap="round"/>
<text x="487.5" y="854.1" text-anchor="middle" font-size="37">26</text>
<line x1="667.9" y1="762.7" x2="667.9" y2="782.9" stroke="#000" stroke-width="2"/>
<line x1="848.2" y1="762.7" x2="848.2" y2="801.5" stroke="#000" stroke-width="3.9" stroke-linecap="round"/>
<text x="848.2" y="854.1" text-anchor="middle" font-size="37">28</text>
<line x1="1028.6" y1="762.7" x2="1028.6" y2="782.9" stroke="#000" stroke-width="2"/>
<line x1="1208.9" y1="762.7" x2="1208.9" y2="801.5" stroke="#000" stroke-width="3.9" stroke-linecap="round"/>
<text x="1208.9" y="854.1" text-anchor="middle" font-size="37">30</text>
<line x1="1389.3" y1="762.7" x2="1389.3" y2="782.9" stroke="#000" stroke-width="2"/>
<line x1="1569.7" y1="762.7" x2="1569.7" y2="801.5" stroke="#000" stroke-width="3.9" stroke-linecap="round"/>
<text x="1569.7" y="854.1" text-anchor="middle" font-size="37">32</text>
<line x1="1750" y1="762.7" x2="1750" y2="782.9" stroke="#000" stroke-width="2"/>
<line x1="144.7" y1="762.7" x2="105.9" y2="762.7" stroke="#000" stroke-width="3.9" stroke-linecap="round"/>
<text x="70.4" y="775.9" text-anchor="middle" font-size="37">0</text>
<line x1="144.7" y1="612.6" x2="105.9" y2="612.6" stroke="#000" stroke-width="3.9" stroke-linecap="round"/>
<text x="70.4" y="625.8" text-anchor="middle" font-size="37">2</text>
<line x1="144.7" y1="462.4" x2="105.9" y2="462.4" stroke="#000" stroke-width="3.9" stroke-linecap="round"/>
<text x="70.4" y="475.6" text-anchor="middle" font-size="37">4</text>
<line x1="144.7" y1="312.3" x2="105.9" y2="312.3" stroke="#000" stroke-width="3.9" stroke-linecap="round"/>
<text x="70.4" y="325.5" text-anchor="middle" font-size="37">6</text>
<line x1="144.7" y1="162.1" x2="105.9" y2="162.1" stroke="#000" stroke-width="3.9" stroke-linecap="round"/>
<text x="70.4" y="175.3" text-anchor="middle" font-size="37">8</text>
<line x1="144.7" y1="687.6" x2="124.4" y2="687.6" stroke="#000" stroke-width="2"/>
<line x1="144.7" y1="537.5" x2="124.4" y2="537.5" stroke="#000" stroke-width="2"/>
<line x1="144.7" y1="387.4" x2="124.4" y2="387.4" stroke="#000" stroke-width="2"/>
<line x1="144.7" y1="237.2" x2="124.4" y2="237.2" stroke="#000" stroke-width="2"/>
<line x1="144.7" y1="87.1" x2="124.4" y2="87.1" stroke="#000" stroke-width="2"/>
<text x="141.7" y="26.5" font-size="36.9">a) SST and precipitation intensity</text>
<text x="947.3" y="906.6" text-anchor="middle" font-size="36.6">SST (<tspan font-size="26" dy="-16.6">o</tspan><tspan dy="16.6">C)</tspan></text>
<text transform="translate(33.9 406.4) rotate(-90)" text-anchor="middle" font-size="36.7">precipitation (mm d<tspan font-size="25" dy="-17.8">-1</tspan><tspan dy="17.8">)</tspan></text>
<line x1="176.7" y1="96.7" x2="273" y2="96.7" stroke="#000000" stroke-width="9.5" stroke-linecap="round"/>
<text x="302.4" y="104.2" font-size="30.4">Present-day</text>
<line x1="176.7" y1="144.2" x2="273" y2="144.2" stroke="#ff0000" stroke-width="9.5" stroke-linecap="round"/>
<text x="302.4" y="151.8" font-size="30.4">Ramp-up</text>
<line x1="176.7" y1="191.9" x2="273" y2="191.9" stroke="#0000ff" stroke-width="9.5" stroke-linecap="round"/>
<text x="302.4" y="199.5" font-size="30.4">Ramp-down</text>
<line x1="176.7" y1="239.5" x2="273" y2="239.5" stroke="#68228b" stroke-width="9.5" stroke-linecap="round"/>
<text x="302.4" y="249.6" font-size="30.4">Observation</text>
<clipPath id="clipB"><rect x="144.7" y="1055" width="1605.3" height="713.5"/></clipPath>
<g clip-path="url(#clipB)">
<path d="M180 1765.7 L184 1765.5 L188 1765.2 L192 1764.9 L196 1764.6 L200.1 1764.1 L204.1 1763.7 L208.1 1763.2 L212.1 1762.6 L216.1 1762 L220.1 1761.4 L224.1 1760.5 L228.1 1759.6 L232.1 1758.6 L236.1 1757.6 L240.2 1756.6 L244.2 1755.5 L248.2 1754.3 L252.2 1753.1 L256.2 1751.7 L260.2 1750.3 L264.2 1749 L268.2 1747.6 L272.2 1746.1 L276.2 1744.4 L280.3 1742.7 L284.3 1740.8 L288.3 1738.9 L292.3 1736.9 L296.3 1734.8 L300.3 1732.6 L304.3 1730.7 L308.3 1728.6 L312.3 1726.5 L316.3 1724.4 L320.4 1722.3 L324.4 1720.1 L328.4 1718 L332.4 1715.9 L336.4 1713.8 L340.4 1711.8 L344.4 1709.9 L348.4 1708.1 L352.4 1706.3 L356.5 1704.4 L360.5 1702.6 L364.5 1700.8 L368.5 1699.1 L372.5 1697.4 L376.5 1695.7 L380.5 1693.9 L384.5 1692.1 L388.5 1690.3 L392.5 1688.6 L396.6 1686.9 L400.6 1685.2 L404.6 1683.6 L408.6 1682 L412.6 1680.5 L416.6 1679 L420.6 1677.4 L424.6 1675.9 L428.6 1674.4 L432.6 1672.8 L436.7 1671.3 L440.7 1669.7 L444.7 1668.2 L448.7 1666.6 L452.7 1665 L456.7 1663.5 L460.7 1661.9 L464.7 1660.3 L468.7 1658.8 L472.7 1657.2 L476.8 1655.7 L480.8 1654.3 L484.8 1652.9 L488.8 1651.6 L492.8 1650.3 L496.8 1649 L500.8 1647.6 L504.8 1646.2 L508.8 1644.8 L512.8 1643.3 L516.9 1641.8 L520.9 1640.2 L524.9 1638.6 L528.9 1637 L532.9 1635.3 L536.9 1633.7 L540.9 1632 L544.9 1630.2 L548.9 1628.5 L553 1626.7 L557 1624.9 L561 1623.1 L565 1621.3 L569 1619.4 L573 1617.5 L577 1615.6 L581 1613.7 L585 1611.8 L589 1609.8 L593.1 1607.8 L597.1 1605.8 L601.1 1603.7 L605.1 1601.5 L609.1 1599.4 L613.1 1597.2 L617.1 1595 L621.1 1592.7 L625.1 1590.5 L629.1 1588.3 L633.2 1586.1 L637.2 1583.9 L641.2 1581.7 L645.2 1579.5 L649.2 1577.3 L653.2 1575.1 L657.2 1572.9 L661.2 1570.7 L665.2 1568.5 L669.2 1566.3 L673.3 1564.1 L677.3 1561.8 L681.3 1559.6 L685.3 1557.4 L689.3 1555.1 L693.3 1552.8 L697.3 1550.5 L701.3 1548.2 L705.3 1545.9 L709.4 1543.5 L713.4 1541.2 L717.4 1538.9 L721.4 1536.5 L725.4 1534.2 L729.4 1531.9 L733.4 1529.5 L737.4 1527.1 L741.4 1524.7 L745.4 1522.3 L749.5 1519.9 L753.5 1517.6 L757.5 1515.2 L761.5 1512.9 L765.5 1510.7 L769.5 1508.4 L773.5 1506.2 L777.5 1504 L781.5 1501.8 L785.5 1499.6 L789.6 1497.4 L793.6 1495.3 L797.6 1493.2 L801.6 1491.1 L805.6 1489 L809.6 1486.9 L813.6 1484.9 L817.6 1482.8 L821.6 1480.8 L825.6 1478.8 L829.7 1476.8 L833.7 1474.8 L837.7 1472.9 L841.7 1470.9 L845.7 1469 L849.7 1467.1 L853.7 1465.2 L857.7 1463.2 L861.7 1461.4 L865.7 1459.5 L869.8 1457.6 L873.8 1455.7 L877.8 1453.9 L881.8 1452 L885.8 1450.2 L889.8 1448.3 L893.8 1446.5 L897.8 1444.7 L901.8 1442.8 L905.9 1441 L909.9 1439.2 L913.9 1437.4 L917.9 1435.7 L921.9 1433.9 L925.9 1432.2 L929.9 1430.4 L933.9 1428.7 L937.9 1427 L941.9 1425.3 L946 1423.6 L950 1422 L954 1420.3 L958 1418.7 L962 1417.1 L966 1415.5 L970 1413.9 L974 1412.3 L978 1410.7 L982 1409.1 L986.1 1407.5 L990.1 1406 L994.1 1404.4 L998.1 1402.9 L1002.1 1401.3 L1006.1 1399.8 L1010.1 1398.2 L1014.1 1396.7 L1018.1 1395.2 L1022.1 1393.7 L1026.2 1392.2 L1030.2 1390.7 L1034.2 1389.2 L1038.2 1387.8 L1042.2 1386.4 L1046.2 1384.9 L1050.2 1383.6 L1054.2 1382.2 L1058.2 1380.9 L1062.3 1379.6 L1066.3 1378.3 L1070.3 1377 L1074.3 1375.8 L1078.3 1374.6 L1082.3 1373.3 L1086.3 1372.1 L1090.3 1371 L1094.3 1369.8 L1098.3 1368.6 L1102.4 1367.5 L1106.4 1366.3 L1110.4 1365.1 L1114.4 1364 L1118.4 1362.8 L1122.4 1361.7 L1126.4 1360.6 L1130.4 1359.4 L1134.4 1358.3 L1138.4 1357.2 L1142.5 1356.1 L1146.5 1354.9 L1150.5 1353.8 L1154.5 1352.7 L1158.5 1351.6 L1162.5 1350.5 L1166.5 1349.4 L1170.5 1348.4 L1174.5 1347.3 L1178.5 1346.2 L1182.6 1345.2 L1186.6 1344.1 L1190.6 1343.1 L1194.6 1342 L1198.6 1341 L1202.6 1339.9 L1206.6 1338.8 L1210.6 1337.7 L1214.6 1336.6 L1218.6 1335.4 L1222.7 1334.3 L1226.7 1333.2 L1230.7 1332.1 L1234.7 1330.9 L1238.7 1329.8 L1242.7 1328.6 L1246.7 1327.4 L1250.7 1326.2 L1254.7 1325 L1258.8 1323.8 L1262.8 1322.6 L1266.8 1321.4 L1270.8 1320.1 L1274.8 1318.9 L1278.8 1317.7 L1282.8 1316.5 L1286.8 1315.2 L1290.8 1314 L1294.8 1312.9 L1298.9 1311.7 L1302.9 1310.7 L1306.9 1309.8 L1310.9 1309 L1314.9 1308.3 L1318.9 1307.7 L1322.9 1307.2 L1326.9 1306.7 L1330.9 1306.3 L1334.9 1306 L1339 1305.8 L1343 1305.6 L1347 1305.6 L1351 1305.7 L1355 1305.8 L1359 1306.1 L1363 1306.5 L1367 1306.9 L1371 1307.4 L1375 1308.1 L1379.1 1308.8 L1383.1 1309.7 L1387.1 1310.7 L1391.1 1311.7 L1395.1 1312.9 L1399.1 1314.3 L1403.1 1315.6 L1407.1 1317.1 L1411.1 1318.7 L1415.2 1320.4 L1419.2 1322.3 L1423.2 1324.3 L1427.2 1326.4 L1431.2 1328.6 L1435.2 1330.9 L1439.2 1333.6 L1443.2 1336.5 L1447.2 1339.8 L1451.2 1343.3 L1455.3 1347 L1459.3 1350.9 L1463.3 1354.9 L1467.3 1358.9 L1471.3 1362.9 L1475.3 1367.1 L1479.3 1371.3 L1483.3 1375.7 L1487.3 1380.2 L1491.3 1385 L1495.4 1390.1 L1499.4 1395.7 L1503.4 1401.6 L1507.4 1407.7 L1511.4 1414 L1515.4 1420.3 L1519.4 1426.7 L1523.4 1433.4 L1527.4 1440.7 L1531.4 1448.5 L1535.5 1456.8 L1539.5 1465.2 L1543.5 1473.8 L1547.5 1482.4 L1551.5 1491 L1555.5 1499.8 L1559.5 1508.6 L1563.5 1517.5 L1567.5 1526.5 L1571.5 1536 L1575.6 1546.3 L1579.6 1557.1 L1583.6 1568.1 L1587.6 1579 L1591.6 1589.5 L1595.6 1599.4 L1599.6 1608.7 L1603.6 1617.9 L1607.6 1626.8 L1611.7 1635.4 L1615.7 1643.8 L1619.7 1651.9 L1623.7 1659.8 L1627.7 1667.4 L1631.7 1674.8 L1635.7 1681.8 L1639.7 1688.5 L1643.7 1694.9 L1647.7 1701 L1651.8 1706.9 L1655.8 1712.5 L1659.8 1717.8 L1663.8 1722.8 L1667.8 1727.5 L1671.8 1731.8 L1675.8 1735.9 L1679.8 1739.6 L1683.8 1743.1 L1687.8 1746.4 L1691.9 1749.3 L1695.9 1751.8 L1699.9 1753.9 L1703.9 1755.6 L1707.9 1757 L1711.9 1758.2 L1715.9 1759.3 L1719.9 1760.2 L1723.9 1761.1 L1727.9 1761.8 L1732 1762.6 L1736 1763.2 L1740 1763.8 L1744 1764.3 L1748 1764.7 L1748 1768.7 L1744 1768.9 L1740 1769.1 L1736 1769.2 L1732 1769.2 L1727.9 1769.2 L1723.9 1769.1 L1719.9 1768.9 L1715.9 1768.6 L1711.9 1768.3 L1707.9 1767.7 L1703.9 1766.9 L1699.9 1765.9 L1695.9 1764.8 L1691.9 1763.3 L1687.8 1761.3 L1683.8 1759 L1679.8 1756.5 L1675.8 1753.7 L1671.8 1750.6 L1667.8 1747.2 L1663.8 1743.5 L1659.8 1739.5 L1655.8 1735.1 L1651.8 1730.4 L1647.7 1725.4 L1643.7 1719.9 L1639.7 1714.2 L1635.7 1708.1 L1631.7 1701.7 L1627.7 1695 L1623.7 1688 L1619.7 1680.8 L1615.7 1673.3 L1611.7 1665.6 L1607.6 1657.6 L1603.6 1649.3 L1599.6 1640.7 L1595.6 1631.4 L1591.6 1621.5 L1587.6 1611 L1583.6 1600.1 L1579.6 1589.1 L1575.6 1578.3 L1571.5 1568 L1567.5 1558.5 L1563.5 1549.5 L1559.5 1540.6 L1555.5 1531.8 L1551.5 1523 L1547.5 1514.2 L1543.5 1505.3 L1539.5 1496.4 L1535.5 1487.6 L1531.4 1479 L1527.4 1470.9 L1523.4 1463.3 L1519.4 1456.3 L1515.4 1449.5 L1511.4 1442.9 L1507.4 1436.3 L1503.4 1429.9 L1499.4 1423.6 L1495.4 1417.6 L1491.3 1412 L1487.3 1406.7 L1483.3 1401.7 L1479.3 1396.8 L1475.3 1392.1 L1471.3 1387.5 L1467.3 1382.9 L1463.3 1378.4 L1459.3 1374 L1455.3 1369.7 L1451.2 1365.5 L1447.2 1361.6 L1443.2 1358 L1439.2 1354.7 L1435.2 1351.8 L1431.2 1349.1 L1427.2 1346.5 L1423.2 1344.1 L1419.2 1341.8 L1415.2 1339.6 L1411.1 1337.6 L1407.1 1335.6 L1403.1 1333.9 L1399.1 1332.3 L1395.1 1330.9 L1391.1 1329.7 L1387.1 1328.7 L1383.1 1327.7 L1379.1 1326.8 L1375 1326.1 L1371 1325.4 L1367 1324.9 L1363 1324.5 L1359 1324.1 L1355 1323.8 L1351 1323.7 L1347 1323.6 L1343 1323.6 L1339 1323.8 L1334.9 1324 L1330.9 1324.3 L1326.9 1324.7 L1322.9 1325.2 L1318.9 1325.7 L1314.9 1326.3 L1310.9 1327 L1306.9 1327.8 L1302.9 1328.7 L1298.9 1329.6 L1294.8 1330.5 L1290.8 1331.5 L1286.8 1332.5 L1282.8 1333.4 L1278.8 1334.4 L1274.8 1335.4 L1270.8 1336.4 L1266.8 1337.4 L1262.8 1338.4 L1258.8 1339.3 L1254.7 1340.3 L1250.7 1341.3 L1246.7 1342.2 L1242.7 1343.2 L1238.7 1344.1 L1234.7 1345 L1230.7 1345.9 L1226.7 1346.8 L1222.7 1347.7 L1218.6 1348.6 L1214.6 1349.4 L1210.6 1350.3 L1206.6 1351.2 L1202.6 1352.1 L1198.6 1353 L1194.6 1353.9 L1190.6 1354.9 L1186.6 1355.8 L1182.6 1356.8 L1178.5 1357.7 L1174.5 1358.7 L1170.5 1359.7 L1166.5 1360.6 L1162.5 1361.6 L1158.5 1362.6 L1154.5 1363.6 L1150.5 1364.6 L1146.5 1365.7 L1142.5 1366.7 L1138.4 1367.7 L1134.4 1368.7 L1130.4 1369.8 L1126.4 1370.8 L1122.4 1371.8 L1118.4 1372.9 L1114.4 1373.9 L1110.4 1375 L1106.4 1376.1 L1102.4 1377.1 L1098.3 1378.2 L1094.3 1379.4 L1090.3 1380.5 L1086.3 1381.7 L1082.3 1382.9 L1078.3 1384.1 L1074.3 1385.3 L1070.3 1386.5 L1066.3 1387.7 L1062.3 1389 L1058.2 1390.3 L1054.2 1391.6 L1050.2 1392.9 L1046.2 1394.3 L1042.2 1395.7 L1038.2 1397.1 L1034.2 1398.5 L1030.2 1399.9 L1026.2 1401.4 L1022.1 1402.9 L1018.1 1404.4 L1014.1 1405.9 L1010.1 1407.4 L1006.1 1408.9 L1002.1 1410.4 L998.1 1411.9 L994.1 1413.5 L990.1 1415 L986.1 1416.6 L982 1418.1 L978 1419.7 L974 1421.2 L970 1422.8 L966 1424.4 L962 1426 L958 1427.6 L954 1429.2 L950 1430.8 L946 1432.5 L941.9 1434.1 L937.9 1435.8 L933.9 1437.5 L929.9 1439.2 L925.9 1440.9 L921.9 1442.6 L917.9 1444.4 L913.9 1446.1 L909.9 1447.9 L905.9 1449.7 L901.8 1451.5 L897.8 1453.3 L893.8 1455.1 L889.8 1456.9 L885.8 1458.8 L881.8 1460.6 L877.8 1462.5 L873.8 1464.3 L869.8 1466.2 L865.7 1468.1 L861.7 1470 L857.7 1471.8 L853.7 1473.8 L849.7 1475.7 L845.7 1477.6 L841.7 1479.5 L837.7 1481.5 L833.7 1483.4 L829.7 1485.4 L825.6 1487.4 L821.6 1489.4 L817.6 1491.4 L813.6 1493.5 L809.6 1495.5 L805.6 1497.6 L801.6 1499.7 L797.6 1501.8 L793.6 1503.9 L789.6 1506 L785.5 1508.2 L781.5 1510.4 L777.5 1512.6 L773.5 1514.8 L769.5 1517 L765.5 1519.3 L761.5 1521.5 L757.5 1523.8 L753.5 1526.2 L749.5 1528.5 L745.4 1530.9 L741.4 1533.3 L737.4 1535.7 L733.4 1538.1 L729.4 1540.5 L725.4 1542.8 L721.4 1545.1 L717.4 1547.5 L713.4 1549.8 L709.4 1552.1 L705.3 1554.5 L701.3 1556.8 L697.3 1559.1 L693.3 1561.4 L689.3 1563.7 L685.3 1566 L681.3 1568.2 L677.3 1570.4 L673.3 1572.7 L669.2 1574.9 L665.2 1577.1 L661.2 1579.3 L657.2 1581.5 L653.2 1583.7 L649.2 1585.9 L645.2 1588.1 L641.2 1590.3 L637.2 1592.5 L633.2 1594.7 L629.1 1596.9 L625.1 1599.1 L621.1 1601.3 L617.1 1603.6 L613.1 1605.8 L609.1 1608 L605.1 1610.1 L601.1 1612.3 L597.1 1614.4 L593.1 1616.4 L589 1618.4 L585 1620.4 L581 1622.3 L577 1624.2 L573 1626.1 L569 1628 L565 1629.9 L561 1631.7 L557 1633.5 L553 1635.3 L548.9 1637.1 L544.9 1638.8 L540.9 1640.6 L536.9 1642.3 L532.9 1643.9 L528.9 1645.6 L524.9 1647.2 L520.9 1648.8 L516.9 1650.4 L512.8 1652 L508.8 1653.6 L504.8 1655.1 L500.8 1656.5 L496.8 1658 L492.8 1659.3 L488.8 1660.7 L484.8 1662.1 L480.8 1663.5 L476.8 1665.1 L472.7 1666.6 L468.7 1668.3 L464.7 1669.9 L460.7 1671.5 L456.7 1673.2 L452.7 1674.8 L448.7 1676.4 L444.7 1678.1 L440.7 1679.7 L436.7 1681.4 L432.6 1683.1 L428.6 1684.7 L424.6 1686.4 L420.6 1688.1 L416.6 1689.7 L412.6 1691.4 L408.6 1693.1 L404.6 1694.8 L400.6 1696.5 L396.6 1698.3 L392.5 1700.2 L388.5 1702.1 L384.5 1704 L380.5 1705.9 L376.5 1708 L372.5 1710.1 L368.5 1712.2 L364.5 1714.4 L360.5 1716.6 L356.5 1718.8 L352.4 1721 L348.4 1723.3 L344.4 1725.5 L340.4 1727.8 L336.4 1730 L332.4 1732.3 L328.4 1734.6 L324.4 1736.9 L320.4 1739.3 L316.3 1741.6 L312.3 1743.9 L308.3 1746.2 L304.3 1748.4 L300.3 1750.6 L296.3 1752.4 L292.3 1754.1 L288.3 1755.7 L284.3 1757.3 L280.3 1758.7 L276.2 1760 L272.2 1761.3 L268.2 1762.4 L264.2 1763.4 L260.2 1764.4 L256.2 1765 L252.2 1765.5 L248.2 1766 L244.2 1766.3 L240.2 1766.6 L236.1 1766.9 L232.1 1767.1 L228.1 1767.2 L224.1 1767.3 L220.1 1767.4 L216.1 1767.6 L212.1 1767.8 L208.1 1768 L204.1 1768.1 L200.1 1768.2 L196 1768.2 L192 1768.1 L188 1768 L184 1767.9 L180 1767.7 Z" fill="#ffc8d0"/>
<path d="M146.7 1648.3 L161.7 1646.7 L180 1640 L198.3 1633.3 L216.7 1625 L235 1616.7 L253.3 1613.3 L271.7 1596.7 L290 1583.3 L306.7 1576.7 L325 1558.3 L343.3 1548.3 L360 1533.3 L378.3 1523.3 L396.7 1511.7 L415 1488.3 L433.3 1483.3 L451.7 1476 L470 1450 L486.7 1445 L505 1442.7 L523.3 1440 L541.7 1421.7 L560 1411.7 L578.3 1411.7 L596.7 1395 L613.3 1393.3 L631.7 1380 L650 1365 L668.3 1363.3 L686.7 1361.7 L703.3 1343.3 L721.7 1332.7 L740 1331.7 L758.3 1328.3 L776.7 1318.3 L795 1310 L813.3 1308.3 L830 1308.3 L848.3 1298.3 L866.7 1280 L885 1273.3 L903.3 1266.7 L920 1256.7 L938.3 1245 L956.7 1225 L975 1228.3 L993.3 1210 L1011.7 1191.7 L1030 1183.3 L1046.7 1175 L1065 1160.7 L1083.3 1192.7 L1101.7 1188.3 L1120 1196 L1138.3 1190.7 L1155 1193.3 L1173.3 1206.7 L1189.7 1226.7 L1208 1216.7 L1228 1220.7 L1246.3 1251.7 L1264.7 1273.3 L1281.3 1306.7 L1299.7 1363.3 L1318 1410 L1334.7 1460 L1353 1510 L1368 1553.3 L1383.3 1603.3 L1401.7 1640 L1420 1670 L1443.3 1696.7 L1448.3 1723.3 L1460 1766.7 L1296.7 1767.3 L1293.3 1746.7 L1286.7 1716.7 L1276.7 1686.7 L1263.3 1656.7 L1246.7 1633.3 L1230 1606.7 L1206.7 1553.3 L1191.7 1510 L1173.3 1473.3 L1156.7 1440 L1138.3 1410 L1120 1395 L1101.7 1393.3 L1083.3 1386.7 L1046.7 1383.3 L1030 1388.3 L1011.7 1393.3 L993.3 1396.7 L975 1401.7 L956.7 1393.3 L938.3 1386 L920 1390 L903.3 1397.3 L885 1396.7 L866.7 1409.3 L848.3 1410 L830 1423.3 L813.3 1423.3 L795 1433.3 L776.7 1446.7 L758.3 1445 L740 1465 L721.7 1466.7 L700 1470 L703.3 1471.7 L686.7 1478.3 L668.3 1485 L650 1491.7 L631.7 1503.3 L613.3 1510 L596.7 1518.3 L578.3 1531.7 L560 1536.7 L541.7 1548.3 L523.3 1566.7 L505 1571.7 L486.7 1579.3 L470 1588.3 L451.7 1596.7 L433.3 1606.7 L415 1621.7 L396.7 1626.7 L378.3 1633.3 L360 1640 L343.3 1651.7 L325 1651.7 L306.7 1661.7 L290 1673.3 L271.7 1676 L253.3 1683.3 L235 1686.7 L216.7 1694 L198.3 1699.3 L181.7 1767.3 L146.7 1767.5 Z" fill="rgb(190,190,190)" fill-opacity="0.86"/>
<path d="M146.7 1648.3 L161.7 1640 L180 1641.7 L198.3 1623.3 L216.7 1624 L235 1615 L253.3 1614 L271.7 1606.7 L290 1595 L306.7 1586.7 L325 1570 L343.3 1556.7 L360 1553.3 L378.3 1546.7 L396.7 1535 L415 1521.7 L433.3 1516.7 L451.7 1510 L470 1490 L486.7 1471.7 L505 1468.3 L523.3 1446.7 L541.7 1428.3 L560 1410 L578.3 1411.7 L596.7 1381.7 L613.3 1379.3 L631.7 1360 L650 1346.7 L668 1325 L685 1310 L700 1298.3 L721.7 1269.3 L740 1276.7 L758.3 1258.3 L776.7 1250 L795 1233.3 L813.3 1223.3 L830 1211.7 L848.3 1186.7 L866.7 1141.7 L885 1138.3 L903.3 1118.3 L920 1081.7 L938.3 1088.3 L956.7 1106.7 L975 1125 L993.3 1098.3 L1011.7 1083.3 L1030 1098.3 L1046.7 1113.3 L1065 1075 L1083.3 1096.7 L1101.7 1150 L1120 1186.7 L1126.7 1213.3 L1138.3 1253.3 L1156.7 1293.3 L1173.3 1330 L1191.7 1338.3 L1210 1373.3 L1220 1406.7 L1228.3 1430 L1240 1473.3 L1246.7 1493.3 L1260 1566.7 L1276.7 1606.7 L1293.3 1656.7 L1310 1686.7 L1316.7 1700 L1321.7 1723.3 L1333.3 1767.3 L1208.3 1767.3 L1200 1723.3 L1190 1686.7 L1173.3 1643.3 L1156.7 1603.3 L1136.7 1556.7 L1120 1503.3 L1101.7 1473.3 L1083.3 1420 L1076.7 1393.3 L1065 1380 L1046.7 1368.3 L1030 1365 L1011.7 1348.3 L993.3 1330 L975 1318.3 L956.7 1291.7 L938.3 1285 L920 1303.3 L903.3 1303.3 L885 1326.7 L866.7 1333.3 L848.3 1336.7 L830 1356.7 L813.3 1365 L795 1376.7 L776.7 1400 L758.3 1393.3 L740 1418.3 L721.7 1416.7 L703.3 1436.7 L686.7 1450 L668.3 1453.3 L650 1481.7 L631.7 1503.3 L613.3 1520 L596.7 1520 L578.3 1521.7 L560 1536 L541.7 1543.3 L523.3 1561.7 L505 1560 L486.7 1568.3 L470 1578.3 L451.7 1578.3 L433.3 1586.7 L415 1593.3 L396.7 1606.7 L378.3 1620 L360 1621.7 L343.3 1631.7 L325 1638.3 L306.7 1646.7 L290 1655 L271.7 1658.3 L253.3 1668.3 L235 1668.3 L216.7 1676.7 L198.3 1681.7 L180 1680 L161.7 1676.7 L146.7 1678.3 Z" fill="rgb(171,130,255)" fill-opacity="0.375"/>
<path d="M373.3 1767 L377.4 1766.6 L381.4 1766.3 L385.4 1765.8 L389.4 1765.3 L393.4 1764.8 L397.4 1764.2 L401.5 1763.5 L405.5 1762.8 L409.5 1762.1 L413.5 1761.3 L417.5 1760.4 L421.6 1759.5 L425.6 1758.6 L429.6 1757.6 L433.6 1756.4 L437.6 1755.2 L441.6 1753.8 L445.7 1752.3 L449.7 1750.7 L453.7 1748.9 L457.7 1747.1 L461.7 1745.1 L465.8 1743.1 L469.8 1741.1 L473.8 1738.9 L477.8 1736.7 L481.8 1734.5 L485.8 1732.3 L489.9 1730.1 L493.9 1727.8 L497.9 1725.6 L501.9 1723.3 L505.9 1721.1 L510 1718.8 L514 1716.5 L518 1714.3 L522 1712 L526 1709.8 L530 1707.5 L534.1 1705.2 L538.1 1703 L542.1 1700.8 L546.1 1698.8 L550.1 1696.7 L554.2 1694.7 L558.2 1692.6 L562.2 1690.6 L566.2 1688.6 L570.2 1686.8 L574.3 1685 L578.3 1683.3 L582.3 1681.7 L586.3 1680.1 L590.3 1678.6 L594.3 1677.1 L598.4 1675.6 L602.4 1674.1 L606.4 1672.6 L610.4 1671.2 L614.4 1669.7 L618.5 1668.2 L622.5 1666.7 L626.5 1665.3 L630.5 1663.8 L634.5 1662.3 L638.5 1660.8 L642.6 1659.3 L646.6 1657.8 L650.6 1656.2 L654.6 1654.7 L658.6 1653.2 L662.7 1651.6 L666.7 1650 L670.7 1648.5 L674.7 1646.9 L678.7 1645.2 L682.7 1643.6 L686.8 1641.8 L690.8 1640.1 L694.8 1638.3 L698.8 1636.4 L702.8 1634.5 L706.9 1632.5 L710.9 1630.5 L714.9 1628.4 L718.9 1626.4 L722.9 1624.3 L726.9 1622.1 L731 1620 L735 1617.8 L739 1615.6 L743 1613.4 L747 1611.2 L751.1 1608.9 L755.1 1606.6 L759.1 1604.3 L763.1 1602 L767.1 1599.7 L771.2 1597.3 L775.2 1595 L779.2 1592.6 L783.2 1590.2 L787.2 1587.9 L791.2 1585.5 L795.3 1583.1 L799.3 1580.7 L803.3 1578.3 L807.3 1575.8 L811.3 1573.4 L815.4 1571 L819.4 1568.6 L823.4 1566.2 L827.4 1563.8 L831.4 1561.4 L835.4 1559 L839.5 1556.6 L843.5 1554.2 L847.5 1551.8 L851.5 1549.4 L855.5 1547.1 L859.6 1544.7 L863.6 1542.4 L867.6 1540.1 L871.6 1537.8 L875.6 1535.5 L879.6 1533.2 L883.7 1531 L887.7 1528.8 L891.7 1526.6 L895.7 1524.4 L899.7 1522.2 L903.8 1520.1 L907.8 1518 L911.8 1515.9 L915.8 1513.9 L919.8 1511.8 L923.8 1509.8 L927.9 1507.8 L931.9 1505.7 L935.9 1503.7 L939.9 1501.7 L943.9 1499.6 L948 1497.6 L952 1495.6 L956 1493.6 L960 1491.5 L964 1489.5 L968.1 1487.5 L972.1 1485.4 L976.1 1483.4 L980.1 1481.4 L984.1 1479.4 L988.1 1477.3 L992.2 1475.3 L996.2 1473.3 L1000.2 1471.2 L1004.2 1469.2 L1008.2 1467.2 L1012.3 1465.1 L1016.3 1463.1 L1020.3 1461.1 L1024.3 1459.1 L1028.3 1457.1 L1032.3 1455.1 L1036.4 1453.1 L1040.4 1451.2 L1044.4 1449.2 L1048.4 1447.3 L1052.4 1445.4 L1056.5 1443.5 L1060.5 1441.6 L1064.5 1439.7 L1068.5 1437.9 L1072.5 1436 L1076.5 1434.2 L1080.6 1432.4 L1084.6 1430.6 L1088.6 1428.8 L1092.6 1427 L1096.6 1425.2 L1100.7 1423.4 L1104.7 1421.6 L1108.7 1419.9 L1112.7 1418.1 L1116.7 1416.3 L1120.7 1414.5 L1124.8 1412.7 L1128.8 1411 L1132.8 1409.2 L1136.8 1407.4 L1140.8 1405.6 L1144.9 1403.9 L1148.9 1402.1 L1152.9 1400.3 L1156.9 1398.6 L1160.9 1396.8 L1164.9 1395 L1169 1393.3 L1173 1391.5 L1177 1389.7 L1181 1388 L1185 1386.2 L1189.1 1384.4 L1193.1 1382.7 L1197.1 1380.9 L1201.1 1379.2 L1205.1 1377.4 L1209.2 1375.7 L1213.2 1374 L1217.2 1372.3 L1221.2 1370.6 L1225.2 1368.9 L1229.2 1367.3 L1233.3 1365.8 L1237.3 1364.4 L1241.3 1363 L1245.3 1361.7 L1249.3 1360.4 L1253.4 1359.2 L1257.4 1357.8 L1261.4 1356.5 L1265.4 1355.1 L1269.4 1353.6 L1273.4 1352.2 L1277.5 1350.6 L1281.5 1349.1 L1285.5 1347.5 L1289.5 1345.9 L1293.5 1344.2 L1297.6 1342.6 L1301.6 1340.9 L1305.6 1339.2 L1309.6 1337.4 L1313.6 1335.6 L1317.6 1333.8 L1321.7 1332 L1325.7 1330.1 L1329.7 1328.1 L1333.7 1326.1 L1337.7 1324.1 L1341.8 1322 L1345.8 1320 L1349.8 1317.9 L1353.8 1315.9 L1357.8 1313.8 L1361.8 1311.8 L1365.9 1309.7 L1369.9 1307.7 L1373.9 1305.6 L1377.9 1303.6 L1381.9 1301.5 L1386 1299.5 L1390 1297.4 L1394 1295.4 L1398 1293.3 L1402 1291.3 L1406.1 1289.2 L1410.1 1287.2 L1414.1 1285.1 L1418.1 1283.1 L1422.1 1281 L1426.1 1279 L1430.2 1277 L1434.2 1274.9 L1438.2 1272.9 L1442.2 1271.1 L1446.2 1269.3 L1450.3 1267.7 L1454.3 1266.1 L1458.3 1264.6 L1462.3 1263.1 L1466.3 1261.6 L1470.3 1260.2 L1474.4 1258.8 L1478.4 1257.5 L1482.4 1256.3 L1486.4 1255.2 L1490.4 1254.1 L1494.5 1253.1 L1498.5 1252.2 L1502.5 1251.4 L1506.5 1250.7 L1510.5 1250.1 L1514.5 1249.6 L1518.6 1249.3 L1522.6 1249.2 L1526.6 1249.3 L1530.6 1249.6 L1534.6 1250 L1538.7 1250.5 L1542.7 1251.2 L1546.7 1252.2 L1550.7 1253.5 L1554.7 1255 L1558.7 1256.9 L1562.8 1259.1 L1566.8 1261.6 L1570.8 1264.1 L1574.8 1266.9 L1578.8 1269.8 L1582.9 1272.3 L1586.9 1274.6 L1590.9 1277.3 L1594.9 1280.4 L1598.9 1283.9 L1603 1288 L1607 1292.8 L1611 1298.1 L1615 1303.8 L1619 1310 L1623 1316.6 L1627.1 1323.3 L1631.1 1330.2 L1635.1 1337.8 L1639.1 1346.3 L1643.1 1355.6 L1647.2 1365.3 L1651.2 1375 L1655.2 1384.8 L1659.2 1394.6 L1663.2 1404.8 L1667.2 1415 L1671.3 1425.3 L1675.3 1435.7 L1679.3 1446.8 L1683.3 1458.6 L1687.3 1470.8 L1691.4 1483.2 L1695.4 1495.6 L1699.4 1508.2 L1703.4 1521.1 L1707.4 1533.8 L1711.4 1546.2 L1715.5 1558.1 L1719.5 1569.4 L1723.5 1580 L1727.5 1590.1 L1731.5 1599.6 L1735.6 1608.7 L1739.6 1617.3 L1743.6 1626 L1747.6 1634.8 L1751.6 1643.9 L1755.6 1653.2 L1759.7 1662.6 L1759.7 1730.6 L1755.6 1721.2 L1751.6 1711.9 L1747.6 1702.8 L1743.6 1694 L1739.6 1685.3 L1735.6 1676.7 L1731.5 1667.6 L1727.5 1658.1 L1723.5 1648 L1719.5 1637.4 L1715.5 1626.1 L1711.4 1614.2 L1707.4 1601.8 L1703.4 1589.1 L1699.4 1576.2 L1695.4 1563.1 L1691.4 1550.3 L1687.3 1537.6 L1683.3 1524.9 L1679.3 1512.7 L1675.3 1501.3 L1671.3 1490.4 L1667.2 1479.7 L1663.2 1469.1 L1659.2 1458.3 L1655.2 1447.2 L1651.2 1436.1 L1647.2 1425 L1643.1 1413.9 L1639.1 1403.3 L1635.1 1393.5 L1631.1 1384.6 L1627.1 1375.9 L1623 1367.3 L1619 1358.9 L1615 1350.8 L1611 1343.2 L1607 1336 L1603 1329.4 L1598.9 1323.2 L1594.9 1317.3 L1590.9 1311.8 L1586.9 1306.8 L1582.9 1302 L1578.8 1297.7 L1574.8 1294.2 L1570.8 1290.9 L1566.8 1287.8 L1562.8 1284.8 L1558.7 1282.1 L1554.7 1279.6 L1550.7 1277.6 L1546.7 1276.1 L1542.7 1274.9 L1538.7 1274.1 L1534.6 1273.4 L1530.6 1272.8 L1526.6 1272.4 L1522.6 1272.1 L1518.6 1272.1 L1514.5 1272.2 L1510.5 1272.5 L1506.5 1272.9 L1502.5 1273.5 L1498.5 1274.2 L1494.5 1275 L1490.4 1275.9 L1486.4 1276.9 L1482.4 1278 L1478.4 1279.1 L1474.4 1280.3 L1470.3 1281.6 L1466.3 1282.9 L1462.3 1284.3 L1458.3 1285.7 L1454.3 1287.2 L1450.3 1288.7 L1446.2 1290.2 L1442.2 1291.9 L1438.2 1293.7 L1434.2 1295.6 L1430.2 1297.6 L1426.1 1299.5 L1422.1 1301.5 L1418.1 1303.5 L1414.1 1305.4 L1410.1 1307.4 L1406.1 1309.4 L1402 1311.3 L1398 1313.3 L1394 1315.3 L1390 1317.2 L1386 1319.2 L1381.9 1321.2 L1377.9 1323.2 L1373.9 1325.1 L1369.9 1327.1 L1365.9 1329.1 L1361.8 1331 L1357.8 1333 L1353.8 1335 L1349.8 1336.9 L1345.8 1338.9 L1341.8 1340.9 L1337.7 1342.8 L1333.7 1344.8 L1329.7 1346.7 L1325.7 1348.6 L1321.7 1350.4 L1317.6 1352.2 L1313.6 1353.9 L1309.6 1355.6 L1305.6 1357.3 L1301.6 1358.9 L1297.6 1360.5 L1293.5 1362.1 L1289.5 1363.6 L1285.5 1365.2 L1281.5 1366.7 L1277.5 1368.2 L1273.4 1369.6 L1269.4 1371 L1265.4 1372.4 L1261.4 1373.7 L1257.4 1375 L1253.4 1376.2 L1249.3 1377.4 L1245.3 1378.7 L1241.3 1379.9 L1237.3 1381.2 L1233.3 1382.6 L1229.2 1384 L1225.2 1385.6 L1221.2 1387.2 L1217.2 1388.8 L1213.2 1390.5 L1209.2 1392.1 L1205.1 1393.8 L1201.1 1395.5 L1197.1 1397.2 L1193.1 1398.9 L1189.1 1400.6 L1185 1402.3 L1181 1404 L1177 1405.8 L1173 1407.5 L1169 1409.2 L1164.9 1410.9 L1160.9 1412.6 L1156.9 1414.3 L1152.9 1416 L1148.9 1417.7 L1144.9 1419.5 L1140.8 1421.2 L1136.8 1422.9 L1132.8 1424.6 L1128.8 1426.3 L1124.8 1428.1 L1120.7 1429.8 L1116.7 1431.5 L1112.7 1433.2 L1108.7 1435 L1104.7 1436.7 L1100.7 1438.4 L1096.6 1440.2 L1092.6 1441.9 L1088.6 1443.7 L1084.6 1445.5 L1080.6 1447.2 L1076.5 1449 L1072.5 1450.8 L1068.5 1452.6 L1064.5 1454.4 L1060.5 1456.2 L1056.5 1458 L1052.4 1459.9 L1048.4 1461.8 L1044.4 1463.7 L1040.4 1465.6 L1036.4 1467.5 L1032.3 1469.4 L1028.3 1471.4 L1024.3 1473.3 L1020.3 1475.3 L1016.3 1477.3 L1012.3 1479.3 L1008.2 1481.3 L1004.2 1483.2 L1000.2 1485.2 L996.2 1487.2 L992.2 1489.2 L988.1 1491.2 L984.1 1493.2 L980.1 1495.2 L976.1 1497.2 L972.1 1499.2 L968.1 1501.1 L964 1503.1 L960 1505.1 L956 1507.1 L952 1509.1 L948 1511.1 L943.9 1513.1 L939.9 1515.1 L935.9 1517.1 L931.9 1519.1 L927.9 1521 L923.8 1523 L919.8 1525 L915.8 1527 L911.8 1529 L907.8 1531.1 L903.8 1533.1 L899.7 1535.2 L895.7 1537.3 L891.7 1539.5 L887.7 1541.6 L883.7 1543.8 L879.6 1546 L875.6 1548.3 L871.6 1550.5 L867.6 1552.8 L863.6 1555 L859.6 1557.3 L855.5 1559.6 L851.5 1562 L847.5 1564.3 L843.5 1566.6 L839.5 1569 L835.4 1571.3 L831.4 1573.7 L827.4 1576.1 L823.4 1578.4 L819.4 1580.8 L815.4 1583.2 L811.3 1585.5 L807.3 1587.9 L803.3 1590.3 L799.3 1592.7 L795.3 1595 L791.2 1597.4 L787.2 1599.7 L783.2 1602.1 L779.2 1604.4 L775.2 1606.7 L771.2 1609 L767.1 1611.3 L763.1 1613.6 L759.1 1615.9 L755.1 1618.2 L751.1 1620.4 L747 1622.6 L743 1624.8 L739 1627 L735 1629.2 L731 1631.3 L726.9 1633.4 L722.9 1635.5 L718.9 1637.6 L714.9 1639.6 L710.9 1641.6 L706.9 1643.6 L702.8 1645.5 L698.8 1647.5 L694.8 1649.4 L690.8 1651.4 L686.8 1653.2 L682.7 1655.1 L678.7 1656.9 L674.7 1658.6 L670.7 1660.3 L666.7 1662 L662.7 1663.7 L658.6 1665.4 L654.6 1667.1 L650.6 1668.7 L646.6 1670.4 L642.6 1672 L638.5 1673.7 L634.5 1675.3 L630.5 1676.9 L626.5 1678.5 L622.5 1680.1 L618.5 1681.7 L614.4 1683.3 L610.4 1684.8 L606.4 1686.5 L602.4 1688.1 L598.4 1689.7 L594.3 1691.5 L590.3 1693.2 L586.3 1695 L582.3 1696.8 L578.3 1698.7 L574.3 1700.7 L570.2 1702.8 L566.2 1704.9 L562.2 1707.1 L558.2 1709.4 L554.2 1711.7 L550.1 1714 L546.1 1716.4 L542.1 1718.7 L538.1 1720.9 L534.1 1723 L530 1725.2 L526 1727.3 L522 1729.4 L518 1731.5 L514 1733.7 L510 1735.8 L505.9 1737.9 L501.9 1740 L497.9 1742.2 L493.9 1744.3 L489.9 1746.4 L485.8 1748.5 L481.8 1750.6 L477.8 1752.4 L473.8 1753.9 L469.8 1755.4 L465.8 1756.9 L461.7 1758.2 L457.7 1759.5 L453.7 1760.7 L449.7 1761.8 L445.7 1762.8 L441.6 1763.7 L437.6 1764.4 L433.6 1765 L429.6 1765.5 L425.6 1766 L421.6 1766.3 L417.5 1766.7 L413.5 1767 L409.5 1767.2 L405.5 1767.4 L401.5 1767.5 L397.4 1767.6 L393.4 1767.7 L389.4 1767.6 L385.4 1767.6 L381.4 1767.4 L377.4 1767.3 L373.3 1767 Z" fill="rgb(173,216,230)" fill-opacity="0.85"/>
<path d="M146.7 1688.3 L149.7 1687.3 L152.7 1686.2 L155.7 1685.2 L158.7 1684.1 L161.7 1683.1 L164.7 1682 L167.7 1680.9 L170.8 1679.8 L173.8 1678.8 L176.8 1677.7 L179.8 1676.6 L182.8 1675.5 L185.8 1674.4 L188.8 1673.3 L191.8 1672.2 L194.8 1671 L197.9 1669.9 L200.9 1668.8 L203.9 1667.7 L206.9 1666.6 L209.9 1665.4 L212.9 1664.3 L215.9 1663.2 L218.9 1662 L221.9 1660.9 L225 1659.7 L228 1658.5 L231 1657.3 L234 1656.2 L237 1655 L240 1653.8 L243 1652.6 L246 1651.3 L249 1650.1 L252.1 1648.9 L255.1 1647.7 L258.1 1646.4 L261.1 1645.2 L264.1 1643.9 L267.1 1642.6 L270.1 1641.3 L273.1 1640 L276.1 1638.7 L279.2 1637.4 L282.2 1636.1 L285.2 1634.7 L288.2 1633.4 L291.2 1632 L294.2 1630.6 L297.2 1629.2 L300.2 1627.7 L303.2 1626.3 L306.2 1624.8 L309.3 1623.3 L312.3 1621.7 L315.3 1620.2 L318.3 1618.6 L321.3 1617 L324.3 1615.4 L327.3 1613.8 L330.3 1612.1 L333.3 1610.4 L336.4 1608.7 L339.4 1607 L342.4 1605.2 L345.4 1603.5 L348.4 1601.7 L351.4 1599.9 L354.4 1598.1 L357.4 1596.3 L360.4 1594.5 L363.5 1592.7 L366.5 1590.9 L369.5 1589 L372.5 1587.2 L375.5 1585.4 L378.5 1583.6 L381.5 1581.8 L384.5 1579.9 L387.5 1578.1 L390.6 1576.3 L393.6 1574.5 L396.6 1572.7 L399.6 1570.9 L402.6 1569.1 L405.6 1567.3 L408.6 1565.5 L411.6 1563.8 L414.6 1562 L417.7 1560.3 L420.7 1558.5 L423.7 1556.8 L426.7 1555 L429.7 1553.3 L432.7 1551.5 L435.7 1549.8 L438.7 1548.1 L441.7 1546.3 L444.8 1544.6 L447.8 1542.8 L450.8 1541.1 L453.8 1539.3 L456.8 1537.5 L459.8 1535.7 L462.8 1533.9 L465.8 1532 L468.8 1530.1 L471.9 1528.2 L474.9 1526.2 L477.9 1524.2 L480.9 1522.1 L483.9 1520.1 L486.9 1518 L489.9 1516 L492.9 1514.1 L495.9 1512.1 L499 1510.3 L502 1508.4 L505 1506.6 L508 1504.9 L511 1503.1 L514 1501.4 L517 1499.7 L520 1498 L523 1496.3 L526.1 1494.7 L529.1 1493 L532.1 1491.4 L535.1 1489.7 L538.1 1488.1 L541.1 1486.5 L544.1 1484.9 L547.1 1483.3 L550.1 1481.7 L553.2 1480.1 L556.2 1478.5 L559.2 1476.9 L562.2 1475.3 L565.2 1473.6 L568.2 1472 L571.2 1470.3 L574.2 1468.6 L577.2 1466.9 L580.3 1465.2 L583.3 1463.5 L586.3 1461.8 L589.3 1460.1 L592.3 1458.4 L595.3 1456.6 L598.3 1454.9 L601.3 1453.2 L604.3 1451.5 L607.4 1449.8 L610.4 1448.1 L613.4 1446.4 L616.4 1444.7 L619.4 1443.1 L622.4 1441.5 L625.4 1439.9 L628.4 1438.4 L631.4 1437 L634.4 1435.7 L637.5 1434.4 L640.5 1433.1 L643.5 1431.9 L646.5 1430.6 L649.5 1429.4 L652.5 1428.2 L655.5 1427 L658.5 1425.8 L661.5 1424.6 L664.6 1423.4 L667.6 1422.2 L670.6 1421 L673.6 1419.8 L676.6 1418.6 L679.6 1417.4 L682.6 1416.2 L685.6 1415 L688.6 1413.8 L691.7 1412.6 L694.7 1411.4 L697.7 1410.2 L700.7 1409 L703.7 1407.8 L706.7 1406.6 L709.7 1405.5 L712.7 1404.3 L715.7 1403.2 L718.8 1402.1 L721.8 1401 L724.8 1399.9 L727.8 1398.9 L730.8 1397.8 L733.8 1396.6 L736.8 1395.5 L739.8 1394.4 L742.8 1393.2 L745.9 1392 L748.9 1390.8 L751.9 1389.6 L754.9 1388.3 L757.9 1387.1 L760.9 1385.9 L763.9 1384.7 L766.9 1383.5 L769.9 1382.4 L773 1381.3 L776 1380.2 L779 1379.1 L782 1378 L785 1377 L788 1376 L791 1374.9 L794 1373.9 L797 1372.9 L800.1 1371.9 L803.1 1370.8 L806.1 1369.8 L809.1 1368.8 L812.1 1367.8 L815.1 1366.8 L818.1 1365.8 L821.1 1364.8 L824.1 1363.8 L827.2 1362.7 L830.2 1361.7 L833.2 1360.7 L836.2 1359.7 L839.2 1358.7 L842.2 1357.7 L845.2 1356.7 L848.2 1355.7 L851.2 1354.7 L854.3 1353.7 L857.3 1352.7 L860.3 1351.7 L863.3 1350.7 L866.3 1349.7 L869.3 1348.7 L872.3 1347.7 L875.3 1346.7 L878.3 1345.7 L881.4 1344.7 L884.4 1343.7 L887.4 1342.7 L890.4 1341.7 L893.4 1340.8 L896.4 1339.8 L899.4 1338.8 L902.4 1337.9 L905.4 1336.9 L908.5 1336 L911.5 1335.1 L914.5 1334.1 L917.5 1333.2 L920.5 1332.3 L923.5 1331.4 L926.5 1330.4 L929.5 1329.5 L932.5 1328.6 L935.6 1327.7 L938.6 1326.8 L941.6 1325.9 L944.6 1325 L947.6 1324.1 L950.6 1323.2 L953.6 1322.3 L956.6 1321.4 L959.6 1320.6 L962.6 1319.7 L965.7 1318.9 L968.7 1318 L971.7 1317.2 L974.7 1316.4 L977.7 1315.6 L980.7 1314.8 L983.7 1314 L986.7 1313.2 L989.7 1312.4 L992.8 1311.7 L995.8 1311 L998.8 1310.3 L1001.8 1309.7 L1004.8 1309 L1007.8 1308.4 L1010.8 1307.9 L1013.8 1307.3 L1016.8 1306.7 L1019.9 1306.2 L1022.9 1305.7 L1025.9 1305.2 L1028.9 1304.8 L1031.9 1304.3 L1034.9 1303.9 L1037.9 1303.5 L1040.9 1303.2 L1043.9 1302.9 L1047 1302.6 L1050 1302.3 L1053 1302.1 L1056 1302 L1059 1301.9 L1062 1301.8 L1065 1301.7 L1068 1301.7 L1071 1301.8 L1074.1 1301.9 L1077.1 1302.1 L1080.1 1302.3 L1083.1 1302.5 L1086.1 1302.8 L1089.1 1303.2 L1092.1 1303.6 L1095.1 1304.1 L1098.1 1304.7 L1101.2 1305.3 L1104.2 1306 L1107.2 1306.8 L1110.2 1307.6 L1113.2 1308.5 L1116.2 1309.5 L1119.2 1310.5 L1122.2 1311.7 L1125.2 1312.9 L1128.3 1314.3 L1131.3 1315.8 L1134.3 1317.3 L1137.3 1319 L1140.3 1320.7 L1143.3 1322.6 L1146.3 1324.5 L1149.3 1326.5 L1152.3 1328.6 L1155.4 1330.8 L1158.4 1333.1 L1161.4 1335.4 L1164.4 1337.9 L1167.4 1340.4 L1170.4 1343.1 L1173.4 1345.8 L1176.4 1348.6 L1179.4 1351.4 L1182.5 1354.4 L1185.5 1357.5 L1188.5 1360.6 L1191.5 1363.9 L1194.5 1367.3 L1197.5 1370.8 L1200.5 1374.4 L1203.5 1378.1 L1206.5 1382 L1209.6 1385.9 L1212.6 1390 L1215.6 1394.2 L1218.6 1398.4 L1221.6 1402.7 L1224.6 1407.1 L1227.6 1411.6 L1230.6 1416.1 L1233.6 1420.6 L1236.7 1425.3 L1239.7 1430 L1242.7 1434.9 L1245.7 1440 L1248.7 1445.2 L1251.7 1450.6 L1254.7 1456.2 L1257.7 1462 L1260.7 1468 L1263.8 1474.1 L1266.8 1480.4 L1269.8 1486.7 L1272.8 1493.2 L1275.8 1499.9 L1278.8 1506.8 L1281.8 1513.9 L1284.8 1521.2 L1287.8 1528.7 L1290.8 1536.4 L1293.9 1544.1 L1296.9 1551.9 L1299.9 1559.7 L1302.9 1567.5 L1305.9 1575.4 L1308.9 1583.2 L1311.9 1591 L1314.9 1598.8 L1317.9 1606.7 L1321 1614.5 L1324 1622.3 L1327 1630.2 L1330 1638 L1333 1645.8 L1336 1653.6 L1339 1661.4 L1342 1669.1 L1345 1676.7 L1348.1 1684 L1351.1 1691.1 L1354.1 1697.9 L1357.1 1704.3 L1360.1 1710.3 L1363.1 1715.9 L1366.1 1721.3 L1369.1 1726.3 L1372.1 1731.1 L1375.2 1735.7 L1378.2 1740 L1381.2 1743.9 L1384.2 1747.5 L1387.2 1750.7 L1390.2 1753.6 L1393.2 1756.1 L1396.2 1758.2 L1399.2 1760 L1402.3 1761.5 L1405.3 1762.8 L1408.3 1763.8 L1411.3 1764.7 L1414.3 1765.4 L1417.3 1765.9 L1420.3 1766.2 L1423.3 1766.5" fill="none" stroke="#000000" stroke-width="4.1" stroke-linecap="round" stroke-linejoin="round"/>
<path d="M180 1766.7 L183 1766.7 L186 1766.7 L189 1766.6 L192 1766.5 L195 1766.4 L198.1 1766.3 L201.1 1766.1 L204.1 1765.9 L207.1 1765.6 L210.1 1765.4 L213.1 1765.1 L216.1 1764.8 L219.1 1764.5 L222.1 1764.1 L225.1 1763.8 L228.2 1763.4 L231.2 1763 L234.2 1762.5 L237.2 1762.1 L240.2 1761.6 L243.2 1761.1 L246.2 1760.5 L249.2 1759.9 L252.2 1759.3 L255.2 1758.6 L258.2 1757.9 L261.3 1757.1 L264.3 1756.2 L267.3 1755.3 L270.3 1754.3 L273.3 1753.3 L276.3 1752.2 L279.3 1751.1 L282.3 1749.8 L285.3 1748.6 L288.3 1747.3 L291.4 1745.9 L294.4 1744.5 L297.4 1743.1 L300.4 1741.6 L303.4 1740 L306.4 1738.4 L309.4 1736.8 L312.4 1735.2 L315.4 1733.5 L318.4 1731.8 L321.5 1730.2 L324.5 1728.5 L327.5 1726.8 L330.5 1725.1 L333.5 1723.5 L336.5 1721.9 L339.5 1720.3 L342.5 1718.7 L345.5 1717.2 L348.5 1715.6 L351.5 1714.1 L354.6 1712.6 L357.6 1711 L360.6 1709.5 L363.6 1708.1 L366.6 1706.6 L369.6 1705.1 L372.6 1703.7 L375.6 1702.2 L378.6 1700.8 L381.6 1699.4 L384.7 1698 L387.7 1696.6 L390.7 1695.2 L393.7 1693.9 L396.7 1692.5 L399.7 1691.2 L402.7 1690 L405.7 1688.7 L408.7 1687.5 L411.7 1686.3 L414.7 1685.1 L417.8 1683.9 L420.8 1682.7 L423.8 1681.5 L426.8 1680.3 L429.8 1679.1 L432.8 1677.9 L435.8 1676.7 L438.8 1675.5 L441.8 1674.3 L444.8 1673.1 L447.9 1671.9 L450.9 1670.7 L453.9 1669.5 L456.9 1668.2 L459.9 1667 L462.9 1665.8 L465.9 1664.6 L468.9 1663.4 L471.9 1662.2 L474.9 1661.1 L478 1659.9 L481 1658.8 L484 1657.8 L487 1656.7 L490 1655.7 L493 1654.7 L496 1653.7 L499 1652.7 L502 1651.7 L505 1650.6 L508 1649.5 L511.1 1648.3 L514.1 1647.2 L517.1 1646 L520.1 1644.8 L523.1 1643.6 L526.1 1642.4 L529.1 1641.2 L532.1 1640 L535.1 1638.7 L538.1 1637.4 L541.2 1636.2 L544.2 1634.9 L547.2 1633.6 L550.2 1632.3 L553.2 1630.9 L556.2 1629.6 L559.2 1628.2 L562.2 1626.8 L565.2 1625.5 L568.2 1624.1 L571.2 1622.6 L574.3 1621.2 L577.3 1619.8 L580.3 1618.4 L583.3 1616.9 L586.3 1615.4 L589.3 1614 L592.3 1612.5 L595.3 1611 L598.3 1609.4 L601.3 1607.8 L604.4 1606.2 L607.4 1604.6 L610.4 1603 L613.4 1601.3 L616.4 1599.7 L619.4 1598 L622.4 1596.3 L625.4 1594.7 L628.4 1593 L631.4 1591.4 L634.4 1589.7 L637.5 1588.1 L640.5 1586.4 L643.5 1584.8 L646.5 1583.1 L649.5 1581.4 L652.5 1579.8 L655.5 1578.1 L658.5 1576.5 L661.5 1574.8 L664.5 1573.2 L667.6 1571.5 L670.6 1569.9 L673.6 1568.2 L676.6 1566.5 L679.6 1564.9 L682.6 1563.2 L685.6 1561.5 L688.6 1559.8 L691.6 1558 L694.6 1556.3 L697.7 1554.6 L700.7 1552.9 L703.7 1551.1 L706.7 1549.4 L709.7 1547.6 L712.7 1545.9 L715.7 1544.1 L718.7 1542.4 L721.7 1540.6 L724.7 1538.9 L727.7 1537.1 L730.8 1535.4 L733.8 1533.6 L736.8 1531.8 L739.8 1530 L742.8 1528.2 L745.8 1526.4 L748.8 1524.6 L751.8 1522.8 L754.8 1521.1 L757.8 1519.3 L760.9 1517.6 L763.9 1515.9 L766.9 1514.2 L769.9 1512.5 L772.9 1510.8 L775.9 1509.1 L778.9 1507.5 L781.9 1505.9 L784.9 1504.2 L787.9 1502.6 L790.9 1501 L794 1499.4 L797 1497.8 L800 1496.2 L803 1494.7 L806 1493.1 L809 1491.5 L812 1490 L815 1488.5 L818 1486.9 L821 1485.4 L824.1 1483.9 L827.1 1482.4 L830.1 1480.9 L833.1 1479.4 L836.1 1478 L839.1 1476.5 L842.1 1475 L845.1 1473.6 L848.1 1472.1 L851.1 1470.7 L854.1 1469.2 L857.2 1467.8 L860.2 1466.4 L863.2 1465 L866.2 1463.6 L869.2 1462.2 L872.2 1460.7 L875.2 1459.3 L878.2 1458 L881.2 1456.6 L884.2 1455.2 L887.3 1453.8 L890.3 1452.4 L893.3 1451 L896.3 1449.7 L899.3 1448.3 L902.3 1446.9 L905.3 1445.6 L908.3 1444.2 L911.3 1442.9 L914.3 1441.6 L917.4 1440.2 L920.4 1438.9 L923.4 1437.6 L926.4 1436.3 L929.4 1435 L932.4 1433.7 L935.4 1432.5 L938.4 1431.2 L941.4 1429.9 L944.4 1428.7 L947.4 1427.4 L950.5 1426.2 L953.5 1425 L956.5 1423.7 L959.5 1422.5 L962.5 1421.3 L965.5 1420.1 L968.5 1418.9 L971.5 1417.7 L974.5 1416.5 L977.5 1415.4 L980.6 1414.2 L983.6 1413 L986.6 1411.8 L989.6 1410.7 L992.6 1409.5 L995.6 1408.4 L998.6 1407.2 L1001.6 1406 L1004.6 1404.9 L1007.6 1403.7 L1010.6 1402.6 L1013.7 1401.5 L1016.7 1400.3 L1019.7 1399.2 L1022.7 1398.1 L1025.7 1397 L1028.7 1395.9 L1031.7 1394.8 L1034.7 1393.7 L1037.7 1392.6 L1040.7 1391.5 L1043.8 1390.5 L1046.8 1389.4 L1049.8 1388.4 L1052.8 1387.4 L1055.8 1386.4 L1058.8 1385.4 L1061.8 1384.4 L1064.8 1383.5 L1067.8 1382.5 L1070.8 1381.6 L1073.9 1380.7 L1076.9 1379.7 L1079.9 1378.8 L1082.9 1377.9 L1085.9 1377 L1088.9 1376.2 L1091.9 1375.3 L1094.9 1374.4 L1097.9 1373.6 L1100.9 1372.7 L1103.9 1371.8 L1107 1371 L1110 1370.2 L1113 1369.3 L1116 1368.5 L1119 1367.7 L1122 1366.9 L1125 1366.1 L1128 1365.2 L1131 1364.4 L1134 1363.6 L1137.1 1362.8 L1140.1 1362 L1143.1 1361.2 L1146.1 1360.4 L1149.1 1359.6 L1152.1 1358.8 L1155.1 1358 L1158.1 1357.2 L1161.1 1356.4 L1164.1 1355.7 L1167.1 1354.9 L1170.2 1354.1 L1173.2 1353.3 L1176.2 1352.6 L1179.2 1351.8 L1182.2 1351.1 L1185.2 1350.3 L1188.2 1349.6 L1191.2 1348.8 L1194.2 1348.1 L1197.2 1347.3 L1200.3 1346.6 L1203.3 1345.8 L1206.3 1345.1 L1209.3 1344.3 L1212.3 1343.6 L1215.3 1342.8 L1218.3 1342.1 L1221.3 1341.3 L1224.3 1340.6 L1227.3 1339.8 L1230.3 1339.1 L1233.4 1338.3 L1236.4 1337.6 L1239.4 1336.8 L1242.4 1336 L1245.4 1335.2 L1248.4 1334.4 L1251.4 1333.6 L1254.4 1332.8 L1257.4 1331.9 L1260.4 1331.1 L1263.5 1330.3 L1266.5 1329.5 L1269.5 1328.6 L1272.5 1327.8 L1275.5 1327 L1278.5 1326.1 L1281.5 1325.3 L1284.5 1324.5 L1287.5 1323.7 L1290.5 1322.8 L1293.6 1322 L1296.6 1321.3 L1299.6 1320.5 L1302.6 1319.7 L1305.6 1319 L1308.6 1318.4 L1311.6 1317.8 L1314.6 1317.3 L1317.6 1316.9 L1320.6 1316.5 L1323.6 1316.1 L1326.7 1315.8 L1329.7 1315.5 L1332.7 1315.2 L1335.7 1315 L1338.7 1314.8 L1341.7 1314.6 L1344.7 1314.6 L1347.7 1314.6 L1350.7 1314.7 L1353.7 1314.8 L1356.8 1315 L1359.8 1315.2 L1362.8 1315.5 L1365.8 1315.8 L1368.8 1316.1 L1371.8 1316.6 L1374.8 1317 L1377.8 1317.6 L1380.8 1318.2 L1383.8 1318.9 L1386.8 1319.6 L1389.9 1320.4 L1392.9 1321.3 L1395.9 1322.2 L1398.9 1323.2 L1401.9 1324.3 L1404.9 1325.4 L1407.9 1326.7 L1410.9 1328 L1413.9 1329.4 L1416.9 1330.9 L1420 1332.5 L1423 1334.1 L1426 1335.8 L1429 1337.5 L1432 1339.3 L1435 1341.2 L1438 1343.3 L1441 1345.5 L1444 1347.9 L1447 1350.5 L1450 1353.3 L1453.1 1356.2 L1456.1 1359.2 L1459.1 1362.3 L1462.1 1365.4 L1465.1 1368.6 L1468.1 1371.8 L1471.1 1375 L1474.1 1378.3 L1477.1 1381.6 L1480.1 1385 L1483.2 1388.5 L1486.2 1392 L1489.2 1395.7 L1492.2 1399.6 L1495.2 1403.6 L1498.2 1407.9 L1501.2 1412.4 L1504.2 1417 L1507.2 1421.8 L1510.2 1426.6 L1513.3 1431.4 L1516.3 1436.3 L1519.3 1441.2 L1522.3 1446.4 L1525.3 1451.7 L1528.3 1457.4 L1531.3 1463.5 L1534.3 1469.8 L1537.3 1476.2 L1540.3 1482.7 L1543.3 1489.2 L1546.4 1495.8 L1549.4 1502.4 L1552.4 1508.9 L1555.4 1515.5 L1558.4 1522.1 L1561.4 1528.8 L1564.4 1535.4 L1567.4 1542.2 L1570.4 1549.3 L1573.4 1556.8 L1576.5 1564.6 L1579.5 1572.8 L1582.5 1581 L1585.5 1589.3 L1588.5 1597.4 L1591.5 1605.2 L1594.5 1612.7 L1597.5 1619.8 L1600.5 1626.7 L1603.5 1633.4 L1606.5 1639.9 L1609.6 1646.2 L1612.6 1652.4 L1615.6 1658.4 L1618.6 1664.3 L1621.6 1670 L1624.6 1675.6 L1627.6 1681.1 L1630.6 1686.4 L1633.6 1691.5 L1636.6 1696.4 L1639.7 1701.2 L1642.7 1705.8 L1645.7 1710.3 L1648.7 1714.5 L1651.7 1718.6 L1654.7 1722.5 L1657.7 1726.2 L1660.7 1729.7 L1663.7 1733.1 L1666.7 1736.3 L1669.8 1739.3 L1672.8 1742.1 L1675.8 1744.7 L1678.8 1747.2 L1681.8 1749.6 L1684.8 1751.8 L1687.8 1753.8 L1690.8 1755.7 L1693.8 1757.3 L1696.8 1758.7 L1699.8 1759.9 L1702.9 1760.9 L1705.9 1761.8 L1708.9 1762.6 L1711.9 1763.2 L1714.9 1763.8 L1717.9 1764.3 L1720.9 1764.7 L1723.9 1765.1 L1726.9 1765.4 L1729.9 1765.7 L1733 1766 L1736 1766.2 L1739 1766.4 L1742 1766.5 L1745 1766.6 L1748 1766.7" fill="none" stroke="#ff0000" stroke-width="4.0" stroke-linecap="round" stroke-linejoin="round"/>
<path d="M373.3 1767 L376.3 1767 L379.3 1766.9 L382.4 1766.8 L385.4 1766.7 L388.4 1766.6 L391.4 1766.4 L394.4 1766.2 L397.4 1765.9 L400.4 1765.6 L403.4 1765.3 L406.4 1765 L409.4 1764.7 L412.4 1764.3 L415.4 1763.9 L418.4 1763.4 L421.4 1763 L424.5 1762.5 L427.5 1761.9 L430.5 1761.4 L433.5 1760.7 L436.5 1760.1 L439.5 1759.3 L442.5 1758.5 L445.5 1757.6 L448.5 1756.7 L451.5 1755.6 L454.5 1754.5 L457.5 1753.4 L460.5 1752.2 L463.6 1750.9 L466.6 1749.7 L469.6 1748.4 L472.6 1747 L475.6 1745.6 L478.6 1744.2 L481.6 1742.6 L484.6 1741.1 L487.6 1739.5 L490.6 1737.8 L493.6 1736.2 L496.6 1734.6 L499.6 1732.9 L502.6 1731.3 L505.7 1729.6 L508.7 1728 L511.7 1726.4 L514.7 1724.7 L517.7 1723.1 L520.7 1721.4 L523.7 1719.8 L526.7 1718.2 L529.7 1716.5 L532.7 1714.9 L535.7 1713.2 L538.7 1711.6 L541.7 1710 L544.7 1708.3 L547.8 1706.7 L550.8 1705 L553.8 1703.4 L556.8 1701.8 L559.8 1700.1 L562.8 1698.5 L565.8 1697 L568.8 1695.5 L571.8 1694 L574.8 1692.6 L577.8 1691.2 L580.8 1689.9 L583.8 1688.6 L586.8 1687.3 L589.9 1686.1 L592.9 1684.9 L595.9 1683.7 L598.9 1682.5 L601.9 1681.3 L604.9 1680.1 L607.9 1679 L610.9 1677.8 L613.9 1676.7 L616.9 1675.5 L619.9 1674.4 L622.9 1673.2 L625.9 1672.1 L628.9 1670.9 L632 1669.8 L635 1668.6 L638 1667.5 L641 1666.3 L644 1665.1 L647 1663.9 L650 1662.7 L653 1661.5 L656 1660.3 L659 1659.1 L662 1657.9 L665 1656.7 L668 1655.5 L671 1654.3 L674.1 1653 L677.1 1651.8 L680.1 1650.5 L683.1 1649.2 L686.1 1647.9 L689.1 1646.5 L692.1 1645.1 L695.1 1643.7 L698.1 1642.3 L701.1 1640.9 L704.1 1639.4 L707.1 1637.9 L710.1 1636.4 L713.2 1634.9 L716.2 1633.4 L719.2 1631.8 L722.2 1630.3 L725.2 1628.7 L728.2 1627.1 L731.2 1625.5 L734.2 1623.9 L737.2 1622.3 L740.2 1620.7 L743.2 1619 L746.2 1617.3 L749.2 1615.7 L752.2 1614 L755.3 1612.3 L758.3 1610.6 L761.3 1608.9 L764.3 1607.2 L767.3 1605.4 L770.3 1603.7 L773.3 1601.9 L776.3 1600.2 L779.3 1598.4 L782.3 1596.7 L785.3 1594.9 L788.3 1593.1 L791.3 1591.4 L794.3 1589.6 L797.4 1587.8 L800.4 1586 L803.4 1584.2 L806.4 1582.4 L809.4 1580.6 L812.4 1578.9 L815.4 1577.1 L818.4 1575.3 L821.4 1573.5 L824.4 1571.7 L827.4 1569.9 L830.4 1568.1 L833.4 1566.3 L836.4 1564.6 L839.5 1562.8 L842.5 1561 L845.5 1559.2 L848.5 1557.5 L851.5 1555.7 L854.5 1554 L857.5 1552.2 L860.5 1550.5 L863.5 1548.8 L866.5 1547 L869.5 1545.3 L872.5 1543.6 L875.5 1541.9 L878.5 1540.3 L881.6 1538.6 L884.6 1536.9 L887.6 1535.3 L890.6 1533.6 L893.6 1532 L896.6 1530.4 L899.6 1528.8 L902.6 1527.2 L905.6 1525.6 L908.6 1524.1 L911.6 1522.6 L914.6 1521 L917.6 1519.5 L920.6 1518 L923.7 1516.5 L926.7 1515 L929.7 1513.5 L932.7 1512 L935.7 1510.5 L938.7 1509 L941.7 1507.5 L944.7 1506 L947.7 1504.5 L950.7 1503 L953.7 1501.5 L956.7 1500 L959.7 1498.5 L962.8 1497 L965.8 1495.5 L968.8 1494 L971.8 1492.4 L974.8 1490.9 L977.8 1489.4 L980.8 1487.9 L983.8 1486.4 L986.8 1484.9 L989.8 1483.4 L992.8 1481.9 L995.8 1480.4 L998.8 1478.9 L1001.8 1477.4 L1004.9 1475.9 L1007.9 1474.4 L1010.9 1472.9 L1013.9 1471.4 L1016.9 1469.9 L1019.9 1468.4 L1022.9 1466.9 L1025.9 1465.4 L1028.9 1463.9 L1031.9 1462.5 L1034.9 1461 L1037.9 1459.5 L1040.9 1458.1 L1043.9 1456.6 L1047 1455.2 L1050 1453.8 L1053 1452.4 L1056 1451 L1059 1449.6 L1062 1448.2 L1065 1446.8 L1068 1445.4 L1071 1444.1 L1074 1442.7 L1077 1441.4 L1080 1440 L1083 1438.7 L1086 1437.4 L1089.1 1436 L1092.1 1434.7 L1095.1 1433.4 L1098.1 1432.1 L1101.1 1430.7 L1104.1 1429.4 L1107.1 1428.1 L1110.1 1426.8 L1113.1 1425.5 L1116.1 1424.2 L1119.1 1422.9 L1122.1 1421.5 L1125.1 1420.2 L1128.1 1418.9 L1131.2 1417.6 L1134.2 1416.3 L1137.2 1415 L1140.2 1413.7 L1143.2 1412.4 L1146.2 1411.1 L1149.2 1409.8 L1152.2 1408.5 L1155.2 1407.2 L1158.2 1405.9 L1161.2 1404.6 L1164.2 1403.3 L1167.2 1402 L1170.2 1400.7 L1173.3 1399.4 L1176.3 1398.1 L1179.3 1396.8 L1182.3 1395.5 L1185.3 1394.2 L1188.3 1392.9 L1191.3 1391.6 L1194.3 1390.3 L1197.3 1389 L1200.3 1387.7 L1203.3 1386.4 L1206.3 1385.1 L1209.3 1383.8 L1212.4 1382.6 L1215.4 1381.3 L1218.4 1380.1 L1221.4 1378.8 L1224.4 1377.6 L1227.4 1376.4 L1230.4 1375.2 L1233.4 1374.1 L1236.4 1373.1 L1239.4 1372.1 L1242.4 1371.1 L1245.4 1370.1 L1248.4 1369.2 L1251.4 1368.3 L1254.5 1367.3 L1257.5 1366.4 L1260.5 1365.4 L1263.5 1364.4 L1266.5 1363.4 L1269.5 1362.3 L1272.5 1361.2 L1275.5 1360.1 L1278.5 1359 L1281.5 1357.9 L1284.5 1356.7 L1287.5 1355.5 L1290.5 1354.3 L1293.5 1353.1 L1296.6 1351.9 L1299.6 1350.7 L1302.6 1349.5 L1305.6 1348.2 L1308.6 1347 L1311.6 1345.7 L1314.6 1344.4 L1317.6 1343 L1320.6 1341.7 L1323.6 1340.3 L1326.6 1338.9 L1329.6 1337.5 L1332.6 1336 L1335.6 1334.5 L1338.7 1333 L1341.7 1331.5 L1344.7 1330 L1347.7 1328.5 L1350.7 1327 L1353.7 1325.5 L1356.7 1324 L1359.7 1322.5 L1362.7 1321 L1365.7 1319.5 L1368.7 1318 L1371.7 1316.5 L1374.7 1315 L1377.7 1313.5 L1380.8 1312 L1383.8 1310.5 L1386.8 1308.9 L1389.8 1307.4 L1392.8 1305.9 L1395.8 1304.4 L1398.8 1302.9 L1401.8 1301.4 L1404.8 1299.9 L1407.8 1298.4 L1410.8 1296.9 L1413.8 1295.4 L1416.8 1293.9 L1419.8 1292.4 L1422.9 1290.9 L1425.9 1289.4 L1428.9 1287.9 L1431.9 1286.4 L1434.9 1284.9 L1437.9 1283.5 L1440.9 1282.1 L1443.9 1280.8 L1446.9 1279.5 L1449.9 1278.3 L1452.9 1277.1 L1455.9 1276 L1458.9 1274.9 L1462 1273.8 L1465 1272.7 L1468 1271.7 L1471 1270.7 L1474 1269.7 L1477 1268.7 L1480 1267.8 L1483 1267 L1486 1266.2 L1489 1265.4 L1492 1264.6 L1495 1263.9 L1498 1263.3 L1501 1262.7 L1504.1 1262.2 L1507.1 1261.7 L1510.1 1261.4 L1513.1 1261.1 L1516.1 1260.8 L1519.1 1260.7 L1522.1 1260.7 L1525.1 1260.8 L1528.1 1261 L1531.1 1261.3 L1534.1 1261.6 L1537.1 1262 L1540.1 1262.6 L1543.1 1263.2 L1546.2 1264 L1549.2 1265 L1552.2 1266.1 L1555.2 1267.5 L1558.2 1269.2 L1561.2 1271 L1564.2 1272.9 L1567.2 1275 L1570.2 1277.1 L1573.2 1279.3 L1576.2 1281.6 L1579.2 1284.1 L1582.2 1286.6 L1585.2 1289.2 L1588.3 1292 L1591.3 1294.9 L1594.3 1298.1 L1597.3 1301.5 L1600.3 1305.2 L1603.3 1309.2 L1606.3 1313.4 L1609.3 1318 L1612.3 1322.8 L1615.3 1327.9 L1618.3 1333.2 L1621.3 1338.7 L1624.3 1344.4 L1627.3 1350.1 L1630.4 1356 L1633.4 1362 L1636.4 1368.5 L1639.4 1375.4 L1642.4 1382.8 L1645.4 1390.6 L1648.4 1398.4 L1651.4 1406.2 L1654.4 1414 L1657.4 1421.8 L1660.4 1429.6 L1663.4 1437.5 L1666.4 1445.3 L1669.4 1453.1 L1672.5 1461 L1675.5 1469 L1678.5 1477.4 L1681.5 1486.2 L1684.5 1495.4 L1687.5 1504.7 L1690.5 1514.1 L1693.5 1523.5 L1696.5 1533 L1699.5 1542.6 L1702.5 1552.2 L1705.5 1561.8 L1708.5 1571.3 L1711.6 1580.5 L1714.6 1589.4 L1717.6 1598 L1720.6 1606.3 L1723.6 1614.3 L1726.6 1621.9 L1729.6 1629.1 L1732.6 1636.1 L1735.6 1642.8 L1738.6 1649.3 L1741.6 1655.7 L1744.6 1662.2 L1747.6 1668.9 L1750.6 1675.6 L1753.7 1682.6 L1756.7 1689.6 L1759.7 1696.6" fill="none" stroke="#0000ff" stroke-width="4.0" stroke-linecap="round" stroke-linejoin="round"/>
<path d="M146.7 1671.7 L200 1656.7 L253.3 1640 L290 1625 L340 1601.7 L406.7 1561.7 L473.3 1526 L540 1488.3 L573.3 1466.7 L606.7 1441.7 L640 1416.7 L673.3 1395 L713.3 1375 L733.3 1355 L776.7 1325 L812 1299.3 L833.3 1285 L866.7 1262.7 L886.7 1250 L903.3 1242.3 L920 1227.3 L938.3 1218.3 L956.7 1215 L975 1218.3 L993.3 1226.7 L1011.7 1238.3 L1030 1253.3 L1046.7 1263.3 L1065 1270.7 L1083.3 1291.7 L1101.7 1316.7 L1120 1353.3 L1138.3 1400 L1156.7 1450 L1176.7 1506.7 L1193.3 1550 L1210 1606.7 L1226.7 1660 L1245 1700 L1263.3 1733.3 L1281.7 1750 L1300 1760.7 L1318.3 1765.7 L1333.3 1766.7" fill="none" stroke="#68228b" stroke-width="3.7" stroke-linecap="round" stroke-linejoin="round"/>
<line x1="812" y1="1769.1" x2="812" y2="1055" stroke="#000000" stroke-width="2.2" stroke-dasharray="26.3 11"/>
<line x1="827.2" y1="1769.1" x2="827.2" y2="1055" stroke="#68228b" stroke-width="2.0" stroke-dasharray="26.3 11"/>
<line x1="1072.7" y1="1769.1" x2="1072.7" y2="1055" stroke="#ff0000" stroke-width="1.9" stroke-dasharray="26.3 11"/>
<line x1="1231" y1="1769.1" x2="1231" y2="1055" stroke="#0000ff" stroke-width="2.0" stroke-dasharray="26.3 11"/>
<circle cx="713.3" cy="1375" r="22.3" fill="#68228b"/>
<circle cx="795.7" cy="1373.3" r="22.3" fill="#000000"/>
<circle cx="1060" cy="1385" r="22.3" fill="#ff0000"/>
<circle cx="1226.7" cy="1376.7" r="22.3" fill="#0000ff"/>
</g>
<rect x="144.7" y="1055" width="1605.3" height="713.5" fill="none" stroke="#000" stroke-width="3.9"/>
<line x1="307.1" y1="1768.5" x2="307.1" y2="1788.7" stroke="#000" stroke-width="2"/>
<line x1="487.5" y1="1768.5" x2="487.5" y2="1807.3" stroke="#000" stroke-width="3.9" stroke-linecap="round"/>
<text x="487.5" y="1859.9" text-anchor="middle" font-size="37">26</text>
<line x1="667.9" y1="1768.5" x2="667.9" y2="1788.7" stroke="#000" stroke-width="2"/>
<line x1="848.2" y1="1768.5" x2="848.2" y2="1807.3" stroke="#000" stroke-width="3.9" stroke-linecap="round"/>
<text x="848.2" y="1859.9" text-anchor="middle" font-size="37">28</text>
<line x1="1028.6" y1="1768.5" x2="1028.6" y2="1788.7" stroke="#000" stroke-width="2"/>
<line x1="1208.9" y1="1768.5" x2="1208.9" y2="1807.3" stroke="#000" stroke-width="3.9" stroke-linecap="round"/>
<text x="1208.9" y="1859.9" text-anchor="middle" font-size="37">30</text>
<line x1="1389.3" y1="1768.5" x2="1389.3" y2="1788.7" stroke="#000" stroke-width="2"/>
<line x1="1569.7" y1="1768.5" x2="1569.7" y2="1807.3" stroke="#000" stroke-width="3.9" stroke-linecap="round"/>
<text x="1569.7" y="1859.9" text-anchor="middle" font-size="37">32</text>
<line x1="1750" y1="1768.5" x2="1750" y2="1788.7" stroke="#000" stroke-width="2"/>
<line x1="144.7" y1="1768.5" x2="105.9" y2="1768.5" stroke="#000" stroke-width="3.9" stroke-linecap="round"/>
<text x="70.4" y="1781.7" text-anchor="middle" font-size="37">0</text>
<line x1="144.7" y1="1549" x2="105.9" y2="1549" stroke="#000" stroke-width="3.9" stroke-linecap="round"/>
<text x="70.4" y="1562.2" text-anchor="middle" font-size="37">1</text>
<line x1="144.7" y1="1329.5" x2="105.9" y2="1329.5" stroke="#000" stroke-width="3.9" stroke-linecap="round"/>
<text x="70.4" y="1342.7" text-anchor="middle" font-size="37">2</text>
<line x1="144.7" y1="1110" x2="105.9" y2="1110" stroke="#000" stroke-width="3.9" stroke-linecap="round"/>
<text x="70.4" y="1123.2" text-anchor="middle" font-size="37">3</text>
<line x1="144.7" y1="1658.8" x2="124.4" y2="1658.8" stroke="#000" stroke-width="2"/>
<line x1="144.7" y1="1439.2" x2="124.4" y2="1439.2" stroke="#000" stroke-width="2"/>
<line x1="144.7" y1="1219.8" x2="124.4" y2="1219.8" stroke="#000" stroke-width="2"/>
<text x="141.7" y="1032.6" font-size="36.9">b) SST distribution</text>
<text x="947.3" y="1912.4" text-anchor="middle" font-size="36.6">SST (<tspan font-size="26" dy="-16.6">o</tspan><tspan dy="16.6">C)</tspan></text>
<text transform="translate(31.3 1411.3) rotate(-90)" text-anchor="middle" font-size="36.6">frequency (%)</text>
<line x1="176.7" y1="1102.5" x2="273" y2="1102.5" stroke="#000000" stroke-width="9.5" stroke-linecap="round"/>
<text x="302.4" y="1110.1" font-size="30.4">Present-day</text>
<line x1="176.7" y1="1150.1" x2="273" y2="1150.1" stroke="#ff0000" stroke-width="9.5" stroke-linecap="round"/>
<text x="302.4" y="1157.7" font-size="30.4">Ramp-up</text>
<line x1="176.7" y1="1197.7" x2="273" y2="1197.7" stroke="#0000ff" stroke-width="9.5" stroke-linecap="round"/>
<text x="302.4" y="1205.3" font-size="30.4">Ramp-down</text>
<line x1="176.7" y1="1245.3" x2="273" y2="1245.3" stroke="#68228b" stroke-width="9.5" stroke-linecap="round"/>
<text x="302.4" y="1255.4" font-size="30.4">Observation</text>
</svg>
</body>
</html>
